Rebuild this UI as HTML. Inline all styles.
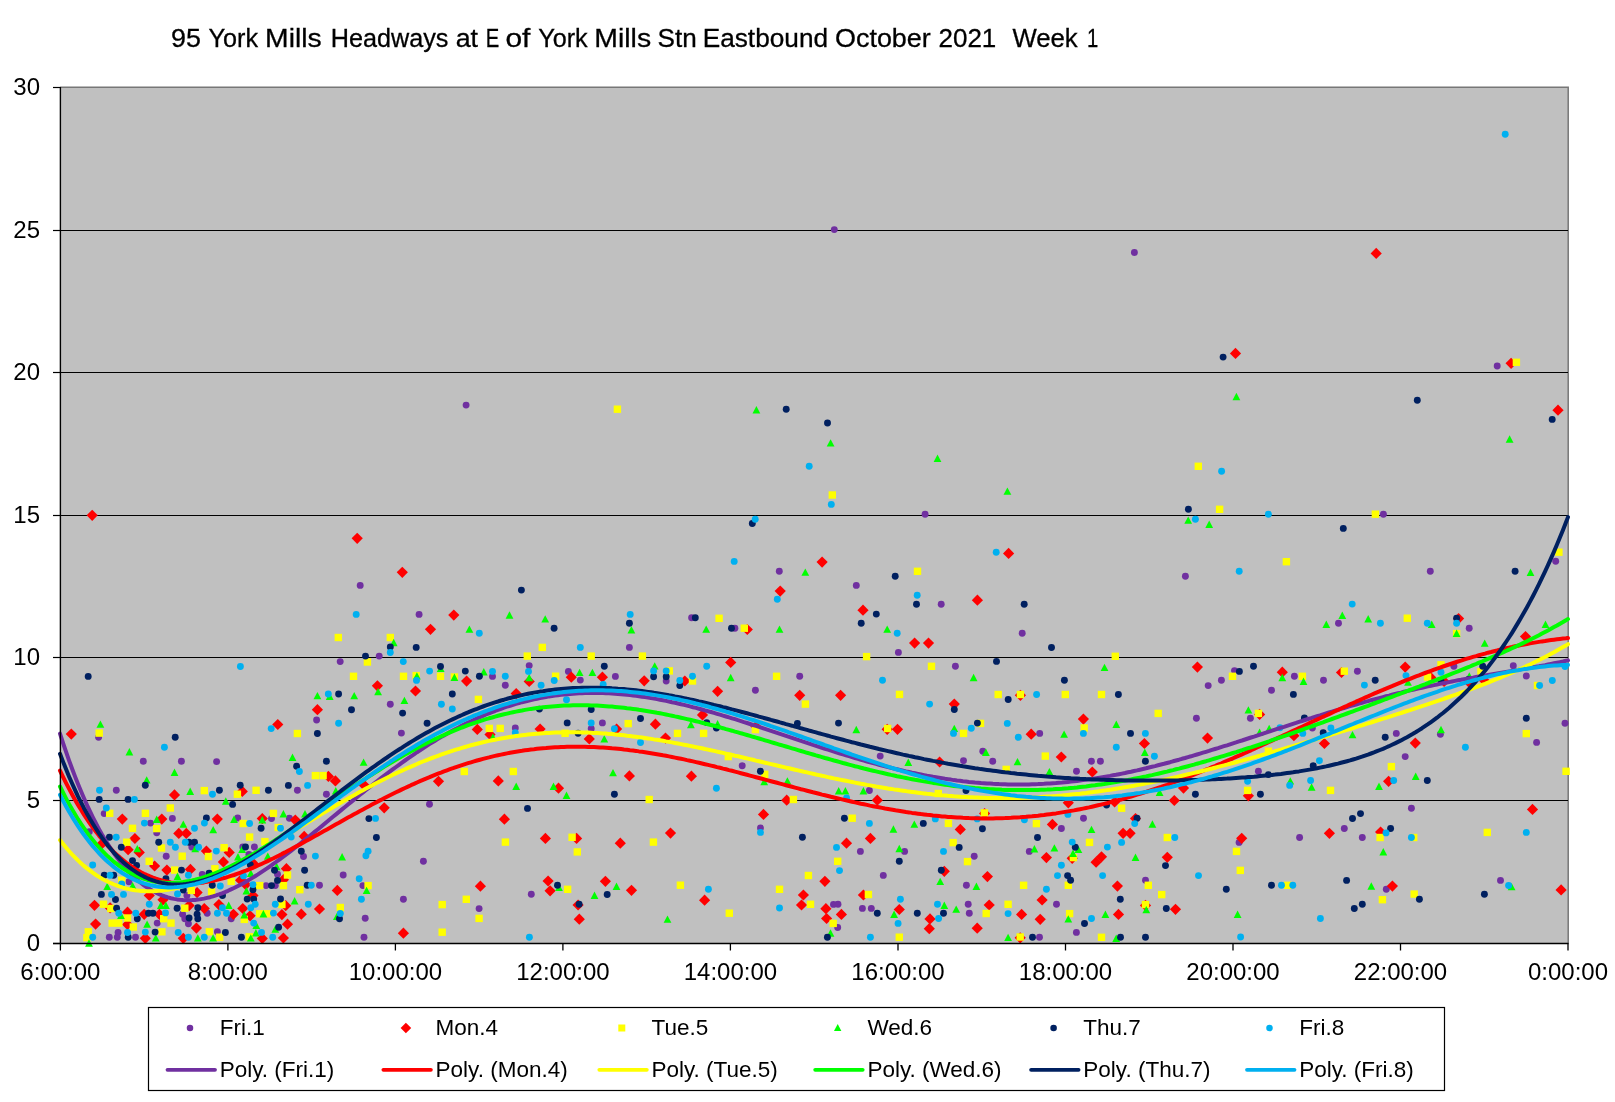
<!DOCTYPE html><html><head><meta charset="utf-8"><style>html,body{margin:0;padding:0;background:#fff;width:1615px;height:1102px;overflow:hidden}svg{display:block;will-change:transform}text{font-family:"Liberation Sans",sans-serif}</style></head><body>
<svg width="1615" height="1102" viewBox="0 0 1615 1102">
<text x="171.1" y="46.5" font-size="26.2" stroke="#000" stroke-width="0.3" textLength="29.9" lengthAdjust="spacingAndGlyphs">95</text>
<text x="208.6" y="46.5" font-size="26.2" stroke="#000" stroke-width="0.3" textLength="49.5" lengthAdjust="spacingAndGlyphs">York</text>
<text x="265.1" y="46.5" font-size="26.2" stroke="#000" stroke-width="0.3" textLength="56.6" lengthAdjust="spacingAndGlyphs">Mills</text>
<text x="330.7" y="46.5" font-size="26.2" stroke="#000" stroke-width="0.3" textLength="117.7" lengthAdjust="spacingAndGlyphs">Headways</text>
<text x="455.7" y="46.5" font-size="26.2" stroke="#000" stroke-width="0.3" textLength="22.4" lengthAdjust="spacingAndGlyphs">at</text>
<text x="485.8" y="46.5" font-size="26.2" stroke="#000" stroke-width="0.3" textLength="13.5" lengthAdjust="spacingAndGlyphs">E</text>
<text x="505.4" y="46.5" font-size="26.2" stroke="#000" stroke-width="0.3" textLength="25.0" lengthAdjust="spacingAndGlyphs">of</text>
<text x="538.2" y="46.5" font-size="26.2" stroke="#000" stroke-width="0.3" textLength="49.5" lengthAdjust="spacingAndGlyphs">York</text>
<text x="594.3" y="46.5" font-size="26.2" stroke="#000" stroke-width="0.3" textLength="56.8" lengthAdjust="spacingAndGlyphs">Mills</text>
<text x="657.5" y="46.5" font-size="26.2" stroke="#000" stroke-width="0.3" textLength="39.2" lengthAdjust="spacingAndGlyphs">Stn</text>
<text x="702.7" y="46.5" font-size="26.2" stroke="#000" stroke-width="0.3" textLength="125.4" lengthAdjust="spacingAndGlyphs">Eastbound</text>
<text x="835.0" y="46.5" font-size="26.2" stroke="#000" stroke-width="0.3" textLength="95.8" lengthAdjust="spacingAndGlyphs">October</text>
<text x="938.5" y="46.5" font-size="26.2" stroke="#000" stroke-width="0.3" textLength="57.8" lengthAdjust="spacingAndGlyphs">2021</text>
<text x="1012.4" y="46.5" font-size="26.2" stroke="#000" stroke-width="0.3" textLength="65.3" lengthAdjust="spacingAndGlyphs">Week</text>
<text x="1086.9" y="46.5" font-size="26.2" stroke="#000" stroke-width="0.3" textLength="11.3" lengthAdjust="spacingAndGlyphs">1</text>
<rect x="60" y="87" width="1508.2" height="856" fill="#C0C0C0"/>
<path d="M60,87.2 L1568.2,87.2 L1568.2,943" fill="none" stroke="#777" stroke-width="1.5"/>
<line x1="60" y1="230.5" x2="1568" y2="230.5" stroke="#000" stroke-width="1.2"/>
<line x1="60" y1="372.5" x2="1568" y2="372.5" stroke="#000" stroke-width="1.2"/>
<line x1="60" y1="515.5" x2="1568" y2="515.5" stroke="#000" stroke-width="1.2"/>
<line x1="60" y1="657.5" x2="1568" y2="657.5" stroke="#000" stroke-width="1.2"/>
<line x1="60" y1="800.5" x2="1568" y2="800.5" stroke="#000" stroke-width="1.2"/>
<circle cx="834.3" cy="229.6" r="3.45" fill="#7030A0"/>
<circle cx="1134.4" cy="252.5" r="3.45" fill="#7030A0"/>
<circle cx="1497.2" cy="366.0" r="3.45" fill="#7030A0"/>
<circle cx="360.2" cy="585.4" r="3.45" fill="#7030A0"/>
<circle cx="419.1" cy="614.4" r="3.45" fill="#7030A0"/>
<circle cx="466.1" cy="405.1" r="3.45" fill="#7030A0"/>
<circle cx="779.3" cy="571.3" r="3.45" fill="#7030A0"/>
<circle cx="856.3" cy="585.4" r="3.45" fill="#7030A0"/>
<circle cx="691.6" cy="617.8" r="3.45" fill="#7030A0"/>
<circle cx="734.9" cy="628.2" r="3.45" fill="#7030A0"/>
<circle cx="925.1" cy="514.3" r="3.45" fill="#7030A0"/>
<circle cx="941.2" cy="604.2" r="3.45" fill="#7030A0"/>
<circle cx="1022.2" cy="633.2" r="3.45" fill="#7030A0"/>
<circle cx="1185.4" cy="576.2" r="3.45" fill="#7030A0"/>
<circle cx="1383.4" cy="514.2" r="3.45" fill="#7030A0"/>
<circle cx="1430.3" cy="571.3" r="3.45" fill="#7030A0"/>
<circle cx="1555.7" cy="561.3" r="3.45" fill="#7030A0"/>
<circle cx="1338.5" cy="623.2" r="3.45" fill="#7030A0"/>
<circle cx="1469.2" cy="628.2" r="3.45" fill="#7030A0"/>
<circle cx="98.6" cy="737.2" r="3.45" fill="#7030A0"/>
<circle cx="143.3" cy="761.3" r="3.45" fill="#7030A0"/>
<circle cx="181.4" cy="761.3" r="3.45" fill="#7030A0"/>
<circle cx="116.3" cy="790.3" r="3.45" fill="#7030A0"/>
<circle cx="104.2" cy="813.6" r="3.45" fill="#7030A0"/>
<circle cx="150.5" cy="823.1" r="3.45" fill="#7030A0"/>
<circle cx="156.7" cy="832.7" r="3.45" fill="#7030A0"/>
<circle cx="89.3" cy="831.7" r="3.45" fill="#7030A0"/>
<circle cx="128.9" cy="881.7" r="3.45" fill="#7030A0"/>
<circle cx="157.2" cy="923.1" r="3.45" fill="#7030A0"/>
<circle cx="109.3" cy="937.2" r="3.45" fill="#7030A0"/>
<circle cx="118.1" cy="932.5" r="3.45" fill="#7030A0"/>
<circle cx="117.3" cy="937.2" r="3.45" fill="#7030A0"/>
<circle cx="135.5" cy="937.2" r="3.45" fill="#7030A0"/>
<circle cx="172.4" cy="818.4" r="3.45" fill="#7030A0"/>
<circle cx="237.7" cy="818.0" r="3.45" fill="#7030A0"/>
<circle cx="191.8" cy="847.0" r="3.45" fill="#7030A0"/>
<circle cx="242.8" cy="847.0" r="3.45" fill="#7030A0"/>
<circle cx="254.4" cy="847.0" r="3.45" fill="#7030A0"/>
<circle cx="248.9" cy="854.5" r="3.45" fill="#7030A0"/>
<circle cx="166.2" cy="856.2" r="3.45" fill="#7030A0"/>
<circle cx="202.2" cy="874.4" r="3.45" fill="#7030A0"/>
<circle cx="186.9" cy="895.5" r="3.45" fill="#7030A0"/>
<circle cx="207.2" cy="913.3" r="3.45" fill="#7030A0"/>
<circle cx="182.6" cy="914.3" r="3.45" fill="#7030A0"/>
<circle cx="184.8" cy="918.7" r="3.45" fill="#7030A0"/>
<circle cx="188.4" cy="923.8" r="3.45" fill="#7030A0"/>
<circle cx="231.2" cy="918.7" r="3.45" fill="#7030A0"/>
<circle cx="217.4" cy="931.8" r="3.45" fill="#7030A0"/>
<circle cx="316.6" cy="720.0" r="3.45" fill="#7030A0"/>
<circle cx="297.4" cy="790.3" r="3.45" fill="#7030A0"/>
<circle cx="326.4" cy="794.3" r="3.45" fill="#7030A0"/>
<circle cx="379.2" cy="656.1" r="3.45" fill="#7030A0"/>
<circle cx="340.2" cy="661.6" r="3.45" fill="#7030A0"/>
<circle cx="390.3" cy="704.2" r="3.45" fill="#7030A0"/>
<circle cx="271.5" cy="818.6" r="3.45" fill="#7030A0"/>
<circle cx="289.4" cy="818.2" r="3.45" fill="#7030A0"/>
<circle cx="303.5" cy="856.5" r="3.45" fill="#7030A0"/>
<circle cx="277.5" cy="874.3" r="3.45" fill="#7030A0"/>
<circle cx="343.2" cy="875.0" r="3.45" fill="#7030A0"/>
<circle cx="362.9" cy="885.6" r="3.45" fill="#7030A0"/>
<circle cx="266.0" cy="885.6" r="3.45" fill="#7030A0"/>
<circle cx="275.3" cy="885.6" r="3.45" fill="#7030A0"/>
<circle cx="319.5" cy="885.2" r="3.45" fill="#7030A0"/>
<circle cx="365.2" cy="918.3" r="3.45" fill="#7030A0"/>
<circle cx="364.0" cy="937.2" r="3.45" fill="#7030A0"/>
<circle cx="216.6" cy="761.6" r="3.45" fill="#7030A0"/>
<circle cx="401.4" cy="733.1" r="3.45" fill="#7030A0"/>
<circle cx="429.5" cy="804.2" r="3.45" fill="#7030A0"/>
<circle cx="423.4" cy="861.2" r="3.45" fill="#7030A0"/>
<circle cx="403.4" cy="899.3" r="3.45" fill="#7030A0"/>
<circle cx="479.1" cy="908.6" r="3.45" fill="#7030A0"/>
<circle cx="629.4" cy="647.4" r="3.45" fill="#7030A0"/>
<circle cx="529.2" cy="665.6" r="3.45" fill="#7030A0"/>
<circle cx="492.5" cy="676.4" r="3.45" fill="#7030A0"/>
<circle cx="505.3" cy="685.2" r="3.45" fill="#7030A0"/>
<circle cx="568.4" cy="671.4" r="3.45" fill="#7030A0"/>
<circle cx="580.3" cy="680.1" r="3.45" fill="#7030A0"/>
<circle cx="615.4" cy="676.4" r="3.45" fill="#7030A0"/>
<circle cx="602.4" cy="722.9" r="3.45" fill="#7030A0"/>
<circle cx="591.2" cy="728.7" r="3.45" fill="#7030A0"/>
<circle cx="515.3" cy="728.0" r="3.45" fill="#7030A0"/>
<circle cx="531.3" cy="894.2" r="3.45" fill="#7030A0"/>
<circle cx="666.2" cy="681.0" r="3.45" fill="#7030A0"/>
<circle cx="755.4" cy="690.2" r="3.45" fill="#7030A0"/>
<circle cx="799.7" cy="676.3" r="3.45" fill="#7030A0"/>
<circle cx="742.2" cy="765.8" r="3.45" fill="#7030A0"/>
<circle cx="760.5" cy="827.9" r="3.45" fill="#7030A0"/>
<circle cx="898.4" cy="652.4" r="3.45" fill="#7030A0"/>
<circle cx="955.4" cy="666.3" r="3.45" fill="#7030A0"/>
<circle cx="880.2" cy="756.1" r="3.45" fill="#7030A0"/>
<circle cx="963.5" cy="760.7" r="3.45" fill="#7030A0"/>
<circle cx="982.8" cy="751.2" r="3.45" fill="#7030A0"/>
<circle cx="869.4" cy="790.5" r="3.45" fill="#7030A0"/>
<circle cx="860.4" cy="851.4" r="3.45" fill="#7030A0"/>
<circle cx="904.6" cy="851.4" r="3.45" fill="#7030A0"/>
<circle cx="883.3" cy="875.4" r="3.45" fill="#7030A0"/>
<circle cx="974.2" cy="856.3" r="3.45" fill="#7030A0"/>
<circle cx="966.4" cy="885.2" r="3.45" fill="#7030A0"/>
<circle cx="838.0" cy="904.3" r="3.45" fill="#7030A0"/>
<circle cx="837.7" cy="927.5" r="3.45" fill="#7030A0"/>
<circle cx="862.4" cy="908.4" r="3.45" fill="#7030A0"/>
<circle cx="871.3" cy="908.4" r="3.45" fill="#7030A0"/>
<circle cx="968.2" cy="904.3" r="3.45" fill="#7030A0"/>
<circle cx="969.3" cy="913.2" r="3.45" fill="#7030A0"/>
<circle cx="1039.7" cy="733.4" r="3.45" fill="#7030A0"/>
<circle cx="992.7" cy="761.2" r="3.45" fill="#7030A0"/>
<circle cx="1076.5" cy="771.2" r="3.45" fill="#7030A0"/>
<circle cx="1091.4" cy="761.2" r="3.45" fill="#7030A0"/>
<circle cx="1100.4" cy="761.2" r="3.45" fill="#7030A0"/>
<circle cx="1083.5" cy="818.2" r="3.45" fill="#7030A0"/>
<circle cx="1061.4" cy="828.5" r="3.45" fill="#7030A0"/>
<circle cx="1029.3" cy="851.4" r="3.45" fill="#7030A0"/>
<circle cx="1145.5" cy="880.2" r="3.45" fill="#7030A0"/>
<circle cx="1056.5" cy="904.3" r="3.45" fill="#7030A0"/>
<circle cx="1076.4" cy="932.4" r="3.45" fill="#7030A0"/>
<circle cx="1039.5" cy="937.3" r="3.45" fill="#7030A0"/>
<circle cx="1208.2" cy="685.6" r="3.45" fill="#7030A0"/>
<circle cx="1221.4" cy="680.2" r="3.45" fill="#7030A0"/>
<circle cx="1234.5" cy="670.6" r="3.45" fill="#7030A0"/>
<circle cx="1271.5" cy="690.2" r="3.45" fill="#7030A0"/>
<circle cx="1294.4" cy="676.3" r="3.45" fill="#7030A0"/>
<circle cx="1323.5" cy="680.2" r="3.45" fill="#7030A0"/>
<circle cx="1196.4" cy="718.3" r="3.45" fill="#7030A0"/>
<circle cx="1250.4" cy="718.3" r="3.45" fill="#7030A0"/>
<circle cx="1312.4" cy="728.0" r="3.45" fill="#7030A0"/>
<circle cx="1258.4" cy="771.2" r="3.45" fill="#7030A0"/>
<circle cx="1239.1" cy="842.4" r="3.45" fill="#7030A0"/>
<circle cx="1299.6" cy="837.5" r="3.45" fill="#7030A0"/>
<circle cx="1357.4" cy="671.2" r="3.45" fill="#7030A0"/>
<circle cx="1453.9" cy="666.3" r="3.45" fill="#7030A0"/>
<circle cx="1396.3" cy="733.4" r="3.45" fill="#7030A0"/>
<circle cx="1440.4" cy="734.2" r="3.45" fill="#7030A0"/>
<circle cx="1405.2" cy="756.6" r="3.45" fill="#7030A0"/>
<circle cx="1411.4" cy="808.2" r="3.45" fill="#7030A0"/>
<circle cx="1344.3" cy="828.5" r="3.45" fill="#7030A0"/>
<circle cx="1362.3" cy="837.5" r="3.45" fill="#7030A0"/>
<circle cx="1386.3" cy="889.2" r="3.45" fill="#7030A0"/>
<circle cx="1500.5" cy="880.4" r="3.45" fill="#7030A0"/>
<circle cx="1513.3" cy="665.7" r="3.45" fill="#7030A0"/>
<circle cx="1526.3" cy="676.0" r="3.45" fill="#7030A0"/>
<circle cx="1536.6" cy="742.4" r="3.45" fill="#7030A0"/>
<circle cx="1565.0" cy="723.2" r="3.45" fill="#7030A0"/>
<circle cx="833.5" cy="904.4" r="3.45" fill="#7030A0"/>
<path d="M1376.2,247.8L1381.8,253.4L1376.2,259.0L1370.6,253.4Z" fill="#FF0000"/>
<path d="M1235.5,347.8L1241.1,353.4L1235.5,359.0L1229.9,353.4Z" fill="#FF0000"/>
<path d="M1511.1,357.7L1516.7,363.3L1511.1,368.9L1505.5,363.3Z" fill="#FF0000"/>
<path d="M1558.0,404.6L1563.6,410.2L1558.0,415.8L1552.4,410.2Z" fill="#FF0000"/>
<path d="M92.2,509.7L97.8,515.3L92.2,520.9L86.6,515.3Z" fill="#FF0000"/>
<path d="M357.2,532.7L362.8,538.3L357.2,543.9L351.6,538.3Z" fill="#FF0000"/>
<path d="M402.3,566.7L407.9,572.3L402.3,577.9L396.7,572.3Z" fill="#FF0000"/>
<path d="M453.8,609.5L459.4,615.1L453.8,620.7L448.2,615.1Z" fill="#FF0000"/>
<path d="M822.1,556.5L827.7,562.1L822.1,567.7L816.5,562.1Z" fill="#FF0000"/>
<path d="M780.2,585.5L785.8,591.1L780.2,596.7L774.6,591.1Z" fill="#FF0000"/>
<path d="M747.3,623.9L752.9,629.5L747.3,635.1L741.7,629.5Z" fill="#FF0000"/>
<path d="M1008.6,547.8L1014.2,553.4L1008.6,559.0L1003.0,553.4Z" fill="#FF0000"/>
<path d="M977.4,594.6L983.0,600.2L977.4,605.8L971.8,600.2Z" fill="#FF0000"/>
<path d="M863.0,604.6L868.6,610.2L863.0,615.8L857.4,610.2Z" fill="#FF0000"/>
<path d="M1458.6,613.0L1464.2,618.6L1458.6,624.2L1453.0,618.6Z" fill="#FF0000"/>
<path d="M1525.5,631.0L1531.1,636.6L1525.5,642.2L1519.9,636.6Z" fill="#FF0000"/>
<path d="M71.3,728.5L76.9,734.1L71.3,739.7L65.7,734.1Z" fill="#FF0000"/>
<path d="M174.5,789.3L180.1,794.9L174.5,800.5L168.9,794.9Z" fill="#FF0000"/>
<path d="M122.3,813.5L127.9,819.1L122.3,824.7L116.7,819.1Z" fill="#FF0000"/>
<path d="M134.9,832.9L140.5,838.5L134.9,844.1L129.3,838.5Z" fill="#FF0000"/>
<path d="M128.1,844.1L133.7,849.7L128.1,855.3L122.5,849.7Z" fill="#FF0000"/>
<path d="M139.3,846.8L144.9,852.4L139.3,858.0L133.7,852.4Z" fill="#FF0000"/>
<path d="M100.8,839.3L106.4,844.9L100.8,850.5L95.2,844.9Z" fill="#FF0000"/>
<path d="M154.6,860.4L160.2,866.0L154.6,871.6L149.0,866.0Z" fill="#FF0000"/>
<path d="M94.5,899.7L100.1,905.3L94.5,910.9L88.9,905.3Z" fill="#FF0000"/>
<path d="M110.1,902.2L115.7,907.8L110.1,913.4L104.5,907.8Z" fill="#FF0000"/>
<path d="M127.5,906.6L133.1,912.2L127.5,917.8L121.9,912.2Z" fill="#FF0000"/>
<path d="M144.2,908.7L149.8,914.3L144.2,919.9L138.6,914.3Z" fill="#FF0000"/>
<path d="M159.4,908.7L165.0,914.3L159.4,919.9L153.8,914.3Z" fill="#FF0000"/>
<path d="M149.3,889.9L154.9,895.5L149.3,901.1L143.7,895.5Z" fill="#FF0000"/>
<path d="M95.6,918.5L101.2,924.1L95.6,929.7L90.0,924.1Z" fill="#FF0000"/>
<path d="M127.5,918.9L133.1,924.5L127.5,930.1L121.9,924.5Z" fill="#FF0000"/>
<path d="M145.3,932.7L150.9,938.3L145.3,943.9L139.7,938.3Z" fill="#FF0000"/>
<path d="M161.8,813.5L167.4,819.1L161.8,824.7L156.2,819.1Z" fill="#FF0000"/>
<path d="M178.8,827.8L184.4,833.4L178.8,839.0L173.2,833.4Z" fill="#FF0000"/>
<path d="M186.3,827.8L191.9,833.4L186.3,839.0L180.7,833.4Z" fill="#FF0000"/>
<path d="M217.3,813.5L222.9,819.1L217.3,824.7L211.7,819.1Z" fill="#FF0000"/>
<path d="M206.4,845.5L212.0,851.1L206.4,856.7L200.8,851.1Z" fill="#FF0000"/>
<path d="M229.2,846.8L234.8,852.4L229.2,858.0L223.6,852.4Z" fill="#FF0000"/>
<path d="M223.4,856.3L229.0,861.9L223.4,867.5L217.8,861.9Z" fill="#FF0000"/>
<path d="M166.9,864.5L172.5,870.1L166.9,875.7L161.3,870.1Z" fill="#FF0000"/>
<path d="M190.4,863.8L196.0,869.4L190.4,875.0L184.8,869.4Z" fill="#FF0000"/>
<path d="M240.6,874.6L246.2,880.2L240.6,885.8L235.0,880.2Z" fill="#FF0000"/>
<path d="M197.1,887.0L202.7,892.6L197.1,898.2L191.5,892.6Z" fill="#FF0000"/>
<path d="M245.7,879.0L251.3,884.6L245.7,890.2L240.1,884.6Z" fill="#FF0000"/>
<path d="M253.0,889.9L258.6,895.5L253.0,901.1L247.4,895.5Z" fill="#FF0000"/>
<path d="M163.0,894.2L168.6,899.8L163.0,905.4L157.4,899.8Z" fill="#FF0000"/>
<path d="M189.1,900.0L194.7,905.6L189.1,911.2L183.5,905.6Z" fill="#FF0000"/>
<path d="M204.3,902.9L209.9,908.5L204.3,914.1L198.7,908.5Z" fill="#FF0000"/>
<path d="M218.9,899.0L224.5,904.6L218.9,910.2L213.3,904.6Z" fill="#FF0000"/>
<path d="M233.4,908.7L239.0,914.3L233.4,919.9L227.8,914.3Z" fill="#FF0000"/>
<path d="M242.8,902.9L248.4,908.5L242.8,914.1L237.2,908.5Z" fill="#FF0000"/>
<path d="M250.1,910.2L255.7,915.8L250.1,921.4L244.5,915.8Z" fill="#FF0000"/>
<path d="M196.4,922.5L202.0,928.1L196.4,933.7L190.8,928.1Z" fill="#FF0000"/>
<path d="M183.3,932.7L188.9,938.3L183.3,943.9L177.7,938.3Z" fill="#FF0000"/>
<path d="M277.8,718.9L283.4,724.5L277.8,730.1L272.2,724.5Z" fill="#FF0000"/>
<path d="M328.4,770.8L334.0,776.4L328.4,782.0L322.8,776.4Z" fill="#FF0000"/>
<path d="M335.4,775.3L341.0,780.9L335.4,786.5L329.8,780.9Z" fill="#FF0000"/>
<path d="M364.4,779.8L370.0,785.4L364.4,791.0L358.8,785.4Z" fill="#FF0000"/>
<path d="M430.5,623.7L436.1,629.3L430.5,634.9L424.9,629.3Z" fill="#FF0000"/>
<path d="M466.6,675.5L472.2,681.1L466.6,686.7L461.0,681.1Z" fill="#FF0000"/>
<path d="M377.4,680.2L383.0,685.8L377.4,691.4L371.8,685.8Z" fill="#FF0000"/>
<path d="M415.5,685.4L421.1,691.0L415.5,696.6L409.9,691.0Z" fill="#FF0000"/>
<path d="M317.4,704.1L323.0,709.7L317.4,715.3L311.8,709.7Z" fill="#FF0000"/>
<path d="M262.3,813.0L267.9,818.6L262.3,824.2L256.7,818.6Z" fill="#FF0000"/>
<path d="M295.3,814.5L300.9,820.1L295.3,825.7L289.7,820.1Z" fill="#FF0000"/>
<path d="M304.2,830.8L309.8,836.4L304.2,842.0L298.6,836.4Z" fill="#FF0000"/>
<path d="M253.7,858.3L259.3,863.9L253.7,869.5L248.1,863.9Z" fill="#FF0000"/>
<path d="M286.4,863.1L292.0,868.7L286.4,874.3L280.8,868.7Z" fill="#FF0000"/>
<path d="M283.4,874.1L289.0,879.7L283.4,885.3L277.8,879.7Z" fill="#FF0000"/>
<path d="M337.3,884.8L342.9,890.4L337.3,896.0L331.7,890.4Z" fill="#FF0000"/>
<path d="M285.7,900.1L291.3,905.7L285.7,911.3L280.1,905.7Z" fill="#FF0000"/>
<path d="M319.5,903.4L325.1,909.0L319.5,914.6L313.9,909.0Z" fill="#FF0000"/>
<path d="M301.3,908.6L306.9,914.2L301.3,919.8L295.7,914.2Z" fill="#FF0000"/>
<path d="M281.9,909.0L287.5,914.6L281.9,920.2L276.3,914.6Z" fill="#FF0000"/>
<path d="M287.5,918.6L293.1,924.2L287.5,929.8L281.9,924.2Z" fill="#FF0000"/>
<path d="M262.3,932.8L267.9,938.4L262.3,944.0L256.7,938.4Z" fill="#FF0000"/>
<path d="M283.4,932.4L289.0,938.0L283.4,943.6L277.8,938.0Z" fill="#FF0000"/>
<path d="M242.3,785.8L247.9,791.4L242.3,797.0L236.7,791.4Z" fill="#FF0000"/>
<path d="M477.3,723.8L482.9,729.4L477.3,735.0L471.7,729.4Z" fill="#FF0000"/>
<path d="M438.5,775.7L444.1,781.3L438.5,786.9L432.9,781.3Z" fill="#FF0000"/>
<path d="M384.2,802.2L389.8,807.8L384.2,813.4L378.6,807.8Z" fill="#FF0000"/>
<path d="M480.4,880.6L486.0,886.2L480.4,891.8L474.8,886.2Z" fill="#FF0000"/>
<path d="M403.4,927.6L409.0,933.2L403.4,938.8L397.8,933.2Z" fill="#FF0000"/>
<path d="M529.2,675.9L534.8,681.5L529.2,687.1L523.6,681.5Z" fill="#FF0000"/>
<path d="M571.3,671.6L576.9,677.2L571.3,682.8L565.7,677.2Z" fill="#FF0000"/>
<path d="M602.4,671.6L608.0,677.2L602.4,682.8L596.8,677.2Z" fill="#FF0000"/>
<path d="M644.2,675.2L649.8,680.8L644.2,686.4L638.6,680.8Z" fill="#FF0000"/>
<path d="M516.2,688.0L521.8,693.6L516.2,699.2L510.6,693.6Z" fill="#FF0000"/>
<path d="M616.6,723.4L622.2,729.0L616.6,734.6L611.0,729.0Z" fill="#FF0000"/>
<path d="M490.0,728.9L495.6,734.5L490.0,740.1L484.4,734.5Z" fill="#FF0000"/>
<path d="M540.1,723.4L545.7,729.0L540.1,734.6L534.5,729.0Z" fill="#FF0000"/>
<path d="M589.3,733.3L594.9,738.9L589.3,744.5L583.7,738.9Z" fill="#FF0000"/>
<path d="M498.3,775.3L503.9,780.9L498.3,786.5L492.7,780.9Z" fill="#FF0000"/>
<path d="M629.4,770.3L635.0,775.9L629.4,781.5L623.8,775.9Z" fill="#FF0000"/>
<path d="M558.5,782.6L564.1,788.2L558.5,793.8L552.9,788.2Z" fill="#FF0000"/>
<path d="M504.4,813.6L510.0,819.2L504.4,824.8L498.8,819.2Z" fill="#FF0000"/>
<path d="M545.4,832.8L551.0,838.4L545.4,844.0L539.8,838.4Z" fill="#FF0000"/>
<path d="M576.6,832.8L582.2,838.4L576.6,844.0L571.0,838.4Z" fill="#FF0000"/>
<path d="M620.3,837.6L625.9,843.2L620.3,848.8L614.7,843.2Z" fill="#FF0000"/>
<path d="M548.1,875.4L553.7,881.0L548.1,886.6L542.5,881.0Z" fill="#FF0000"/>
<path d="M550.1,885.2L555.7,890.8L550.1,896.4L544.5,890.8Z" fill="#FF0000"/>
<path d="M605.4,875.7L611.0,881.3L605.4,886.9L599.8,881.3Z" fill="#FF0000"/>
<path d="M631.5,884.7L637.1,890.3L631.5,895.9L625.9,890.3Z" fill="#FF0000"/>
<path d="M578.1,899.4L583.7,905.0L578.1,910.6L572.5,905.0Z" fill="#FF0000"/>
<path d="M579.3,913.6L584.9,919.2L579.3,924.8L573.7,919.2Z" fill="#FF0000"/>
<path d="M684.8,675.4L690.4,681.0L684.8,686.6L679.2,681.0Z" fill="#FF0000"/>
<path d="M730.7,656.8L736.3,662.4L730.7,668.0L725.1,662.4Z" fill="#FF0000"/>
<path d="M717.6,685.7L723.2,691.3L717.6,696.9L712.0,691.3Z" fill="#FF0000"/>
<path d="M799.7,689.7L805.3,695.3L799.7,700.9L794.1,695.3Z" fill="#FF0000"/>
<path d="M655.4,718.6L661.0,724.2L655.4,729.8L649.8,724.2Z" fill="#FF0000"/>
<path d="M665.5,732.5L671.1,738.1L665.5,743.7L659.9,738.1Z" fill="#FF0000"/>
<path d="M702.5,709.3L708.1,714.9L702.5,720.5L696.9,714.9Z" fill="#FF0000"/>
<path d="M756.0,720.9L761.6,726.5L756.0,732.1L750.4,726.5Z" fill="#FF0000"/>
<path d="M691.4,770.6L697.0,776.2L691.4,781.8L685.8,776.2Z" fill="#FF0000"/>
<path d="M786.7,794.6L792.3,800.2L786.7,805.8L781.1,800.2Z" fill="#FF0000"/>
<path d="M763.5,808.8L769.1,814.4L763.5,820.0L757.9,814.4Z" fill="#FF0000"/>
<path d="M670.5,827.5L676.1,833.1L670.5,838.7L664.9,833.1Z" fill="#FF0000"/>
<path d="M704.6,894.6L710.2,900.2L704.6,905.8L699.0,900.2Z" fill="#FF0000"/>
<path d="M824.9,875.7L830.5,881.3L824.9,886.9L819.3,881.3Z" fill="#FF0000"/>
<path d="M803.4,889.4L809.0,895.0L803.4,900.6L797.8,895.0Z" fill="#FF0000"/>
<path d="M801.5,899.4L807.1,905.0L801.5,910.6L795.9,905.0Z" fill="#FF0000"/>
<path d="M825.9,903.1L831.5,908.7L825.9,914.3L820.3,908.7Z" fill="#FF0000"/>
<path d="M826.6,912.9L832.2,918.5L826.6,924.1L821.0,918.5Z" fill="#FF0000"/>
<path d="M914.6,637.5L920.2,643.1L914.6,648.7L909.0,643.1Z" fill="#FF0000"/>
<path d="M928.5,637.5L934.1,643.1L928.5,648.7L922.9,643.1Z" fill="#FF0000"/>
<path d="M840.6,689.7L846.2,695.3L840.6,700.9L835.0,695.3Z" fill="#FF0000"/>
<path d="M954.3,698.5L959.9,704.1L954.3,709.7L948.7,704.1Z" fill="#FF0000"/>
<path d="M887.2,723.7L892.8,729.3L887.2,734.9L881.6,729.3Z" fill="#FF0000"/>
<path d="M897.5,723.7L903.1,729.3L897.5,734.9L891.9,729.3Z" fill="#FF0000"/>
<path d="M939.6,756.4L945.2,762.0L939.6,767.6L934.0,762.0Z" fill="#FF0000"/>
<path d="M877.3,794.6L882.9,800.2L877.3,805.8L871.7,800.2Z" fill="#FF0000"/>
<path d="M960.3,823.8L965.9,829.4L960.3,835.0L954.7,829.4Z" fill="#FF0000"/>
<path d="M846.5,837.6L852.1,843.2L846.5,848.8L840.9,843.2Z" fill="#FF0000"/>
<path d="M870.4,832.8L876.0,838.4L870.4,844.0L864.8,838.4Z" fill="#FF0000"/>
<path d="M944.3,865.7L949.9,871.3L944.3,876.9L938.7,871.3Z" fill="#FF0000"/>
<path d="M987.4,871.0L993.0,876.6L987.4,882.2L981.8,876.6Z" fill="#FF0000"/>
<path d="M863.4,889.4L869.0,895.0L863.4,900.6L857.8,895.0Z" fill="#FF0000"/>
<path d="M841.4,908.8L847.0,914.4L841.4,920.0L835.8,914.4Z" fill="#FF0000"/>
<path d="M899.3,903.9L904.9,909.5L899.3,915.1L893.7,909.5Z" fill="#FF0000"/>
<path d="M930.0,913.3L935.6,918.9L930.0,924.5L924.4,918.9Z" fill="#FF0000"/>
<path d="M929.3,923.1L934.9,928.7L929.3,934.3L923.7,928.7Z" fill="#FF0000"/>
<path d="M989.2,899.4L994.8,905.0L989.2,910.6L983.6,905.0Z" fill="#FF0000"/>
<path d="M977.2,922.6L982.8,928.2L977.2,933.8L971.6,928.2Z" fill="#FF0000"/>
<path d="M1020.4,689.7L1026.0,695.3L1020.4,700.9L1014.8,695.3Z" fill="#FF0000"/>
<path d="M1031.2,728.6L1036.8,734.2L1031.2,739.8L1025.6,734.2Z" fill="#FF0000"/>
<path d="M1083.4,713.5L1089.0,719.1L1083.4,724.7L1077.8,719.1Z" fill="#FF0000"/>
<path d="M1144.4,737.9L1150.0,743.5L1144.4,749.1L1138.8,743.5Z" fill="#FF0000"/>
<path d="M1061.3,751.4L1066.9,757.0L1061.3,762.6L1055.7,757.0Z" fill="#FF0000"/>
<path d="M1092.3,766.4L1097.9,772.0L1092.3,777.6L1086.7,772.0Z" fill="#FF0000"/>
<path d="M1068.3,797.2L1073.9,802.8L1068.3,808.4L1062.7,802.8Z" fill="#FF0000"/>
<path d="M1114.6,796.4L1120.2,802.0L1114.6,807.6L1109.0,802.0Z" fill="#FF0000"/>
<path d="M1052.4,818.8L1058.0,824.4L1052.4,830.0L1046.8,824.4Z" fill="#FF0000"/>
<path d="M1135.5,812.9L1141.1,818.5L1135.5,824.1L1129.9,818.5Z" fill="#FF0000"/>
<path d="M1123.1,827.7L1128.7,833.3L1123.1,838.9L1117.5,833.3Z" fill="#FF0000"/>
<path d="M1130.1,827.7L1135.7,833.3L1130.1,838.9L1124.5,833.3Z" fill="#FF0000"/>
<path d="M1046.4,852.0L1052.0,857.6L1046.4,863.2L1040.8,857.6Z" fill="#FF0000"/>
<path d="M1072.2,852.7L1077.8,858.3L1072.2,863.9L1066.6,858.3Z" fill="#FF0000"/>
<path d="M1096.1,856.6L1101.7,862.2L1096.1,867.8L1090.5,862.2Z" fill="#FF0000"/>
<path d="M1101.5,851.2L1107.1,856.8L1101.5,862.4L1095.9,856.8Z" fill="#FF0000"/>
<path d="M1117.4,880.5L1123.0,886.1L1117.4,891.7L1111.8,886.1Z" fill="#FF0000"/>
<path d="M1042.1,894.4L1047.7,900.0L1042.1,905.6L1036.5,900.0Z" fill="#FF0000"/>
<path d="M1021.6,908.8L1027.2,914.4L1021.6,920.0L1016.0,914.4Z" fill="#FF0000"/>
<path d="M1040.2,913.7L1045.8,919.3L1040.2,924.9L1034.6,919.3Z" fill="#FF0000"/>
<path d="M1118.5,908.8L1124.1,914.4L1118.5,920.0L1112.9,914.4Z" fill="#FF0000"/>
<path d="M1145.5,899.8L1151.1,905.4L1145.5,911.0L1139.9,905.4Z" fill="#FF0000"/>
<path d="M1020.2,932.2L1025.8,937.8L1020.2,943.4L1014.6,937.8Z" fill="#FF0000"/>
<path d="M1197.4,661.5L1203.0,667.1L1197.4,672.7L1191.8,667.1Z" fill="#FF0000"/>
<path d="M1282.3,666.6L1287.9,672.2L1282.3,677.8L1276.7,672.2Z" fill="#FF0000"/>
<path d="M1259.6,708.8L1265.2,714.4L1259.6,720.0L1254.0,714.4Z" fill="#FF0000"/>
<path d="M1207.5,732.5L1213.1,738.1L1207.5,743.7L1201.9,738.1Z" fill="#FF0000"/>
<path d="M1293.9,730.1L1299.5,735.7L1293.9,741.3L1288.3,735.7Z" fill="#FF0000"/>
<path d="M1324.4,737.9L1330.0,743.5L1324.4,749.1L1318.8,743.5Z" fill="#FF0000"/>
<path d="M1248.4,790.2L1254.0,795.8L1248.4,801.4L1242.8,795.8Z" fill="#FF0000"/>
<path d="M1183.5,782.5L1189.1,788.1L1183.5,793.7L1177.9,788.1Z" fill="#FF0000"/>
<path d="M1174.3,794.9L1179.9,800.5L1174.3,806.1L1168.7,800.5Z" fill="#FF0000"/>
<path d="M1241.7,832.7L1247.3,838.3L1241.7,843.9L1236.1,838.3Z" fill="#FF0000"/>
<path d="M1329.4,827.7L1335.0,833.3L1329.4,838.9L1323.8,833.3Z" fill="#FF0000"/>
<path d="M1167.3,851.7L1172.9,857.3L1167.3,862.9L1161.7,857.3Z" fill="#FF0000"/>
<path d="M1175.5,903.7L1181.1,909.3L1175.5,914.9L1169.9,909.3Z" fill="#FF0000"/>
<path d="M1341.5,666.9L1347.1,672.5L1341.5,678.1L1335.9,672.5Z" fill="#FF0000"/>
<path d="M1405.2,661.5L1410.8,667.1L1405.2,672.7L1399.6,667.1Z" fill="#FF0000"/>
<path d="M1430.7,671.8L1436.3,677.4L1430.7,683.0L1425.1,677.4Z" fill="#FF0000"/>
<path d="M1444.1,675.8L1449.7,681.4L1444.1,687.0L1438.5,681.4Z" fill="#FF0000"/>
<path d="M1470.1,677.7L1475.7,683.3L1470.1,688.9L1464.5,683.3Z" fill="#FF0000"/>
<path d="M1484.0,674.6L1489.6,680.2L1484.0,685.8L1478.4,680.2Z" fill="#FF0000"/>
<path d="M1415.3,737.5L1420.9,743.1L1415.3,748.7L1409.7,743.1Z" fill="#FF0000"/>
<path d="M1388.6,775.7L1394.2,781.3L1388.6,786.9L1383.0,781.3Z" fill="#FF0000"/>
<path d="M1380.6,826.5L1386.2,832.1L1380.6,837.7L1375.0,832.1Z" fill="#FF0000"/>
<path d="M1392.4,880.5L1398.0,886.1L1392.4,891.7L1386.8,886.1Z" fill="#FF0000"/>
<path d="M1532.5,803.8L1538.1,809.4L1532.5,815.0L1526.9,809.4Z" fill="#FF0000"/>
<path d="M1561.1,884.3L1566.7,889.9L1561.1,895.5L1555.5,889.9Z" fill="#FF0000"/>
<path d="M984.6,807.9L990.2,813.5L984.6,819.1L979.0,813.5Z" fill="#FF0000"/>
<rect x="1512.7" y="358.6" width="7.4" height="7.4" fill="#FFFF00"/>
<rect x="613.7" y="405.5" width="7.4" height="7.4" fill="#FFFF00"/>
<rect x="828.6" y="491.3" width="7.4" height="7.4" fill="#FFFF00"/>
<rect x="715.4" y="614.6" width="7.4" height="7.4" fill="#FFFF00"/>
<rect x="740.6" y="624.5" width="7.4" height="7.4" fill="#FFFF00"/>
<rect x="913.8" y="567.6" width="7.4" height="7.4" fill="#FFFF00"/>
<rect x="1194.6" y="462.6" width="7.4" height="7.4" fill="#FFFF00"/>
<rect x="1215.9" y="505.6" width="7.4" height="7.4" fill="#FFFF00"/>
<rect x="1371.7" y="510.5" width="7.4" height="7.4" fill="#FFFF00"/>
<rect x="1282.7" y="558.0" width="7.4" height="7.4" fill="#FFFF00"/>
<rect x="1555.2" y="548.5" width="7.4" height="7.4" fill="#FFFF00"/>
<rect x="1403.6" y="614.5" width="7.4" height="7.4" fill="#FFFF00"/>
<rect x="1452.9" y="629.9" width="7.4" height="7.4" fill="#FFFF00"/>
<rect x="95.5" y="729.4" width="7.4" height="7.4" fill="#FFFF00"/>
<rect x="166.6" y="804.3" width="7.4" height="7.4" fill="#FFFF00"/>
<rect x="106.0" y="809.6" width="7.4" height="7.4" fill="#FFFF00"/>
<rect x="141.7" y="809.6" width="7.4" height="7.4" fill="#FFFF00"/>
<rect x="153.0" y="824.9" width="7.4" height="7.4" fill="#FFFF00"/>
<rect x="128.8" y="824.6" width="7.4" height="7.4" fill="#FFFF00"/>
<rect x="123.0" y="838.5" width="7.4" height="7.4" fill="#FFFF00"/>
<rect x="145.5" y="857.6" width="7.4" height="7.4" fill="#FFFF00"/>
<rect x="118.0" y="876.5" width="7.4" height="7.4" fill="#FFFF00"/>
<rect x="99.8" y="900.5" width="7.4" height="7.4" fill="#FFFF00"/>
<rect x="107.1" y="904.8" width="7.4" height="7.4" fill="#FFFF00"/>
<rect x="123.8" y="914.3" width="7.4" height="7.4" fill="#FFFF00"/>
<rect x="108.5" y="919.4" width="7.4" height="7.4" fill="#FFFF00"/>
<rect x="115.1" y="919.4" width="7.4" height="7.4" fill="#FFFF00"/>
<rect x="129.6" y="923.3" width="7.4" height="7.4" fill="#FFFF00"/>
<rect x="84.6" y="928.1" width="7.4" height="7.4" fill="#FFFF00"/>
<rect x="83.2" y="933.9" width="7.4" height="7.4" fill="#FFFF00"/>
<rect x="239.5" y="819.8" width="7.4" height="7.4" fill="#FFFF00"/>
<rect x="245.9" y="833.4" width="7.4" height="7.4" fill="#FFFF00"/>
<rect x="157.8" y="844.3" width="7.4" height="7.4" fill="#FFFF00"/>
<rect x="204.7" y="852.8" width="7.4" height="7.4" fill="#FFFF00"/>
<rect x="220.4" y="844.0" width="7.4" height="7.4" fill="#FFFF00"/>
<rect x="178.5" y="852.5" width="7.4" height="7.4" fill="#FFFF00"/>
<rect x="171.0" y="866.4" width="7.4" height="7.4" fill="#FFFF00"/>
<rect x="211.2" y="865.1" width="7.4" height="7.4" fill="#FFFF00"/>
<rect x="227.5" y="877.6" width="7.4" height="7.4" fill="#FFFF00"/>
<rect x="207.9" y="888.2" width="7.4" height="7.4" fill="#FFFF00"/>
<rect x="187.6" y="886.7" width="7.4" height="7.4" fill="#FFFF00"/>
<rect x="181.1" y="904.5" width="7.4" height="7.4" fill="#FFFF00"/>
<rect x="240.6" y="915.7" width="7.4" height="7.4" fill="#FFFF00"/>
<rect x="160.0" y="915.0" width="7.4" height="7.4" fill="#FFFF00"/>
<rect x="167.3" y="919.4" width="7.4" height="7.4" fill="#FFFF00"/>
<rect x="158.2" y="928.1" width="7.4" height="7.4" fill="#FFFF00"/>
<rect x="205.7" y="928.1" width="7.4" height="7.4" fill="#FFFF00"/>
<rect x="215.9" y="933.5" width="7.4" height="7.4" fill="#FFFF00"/>
<rect x="245.6" y="933.1" width="7.4" height="7.4" fill="#FFFF00"/>
<rect x="293.7" y="729.8" width="7.4" height="7.4" fill="#FFFF00"/>
<rect x="311.7" y="771.9" width="7.4" height="7.4" fill="#FFFF00"/>
<rect x="319.4" y="771.9" width="7.4" height="7.4" fill="#FFFF00"/>
<rect x="252.4" y="786.6" width="7.4" height="7.4" fill="#FFFF00"/>
<rect x="334.6" y="633.8" width="7.4" height="7.4" fill="#FFFF00"/>
<rect x="386.6" y="633.8" width="7.4" height="7.4" fill="#FFFF00"/>
<rect x="363.7" y="658.3" width="7.4" height="7.4" fill="#FFFF00"/>
<rect x="349.8" y="672.6" width="7.4" height="7.4" fill="#FFFF00"/>
<rect x="399.8" y="672.6" width="7.4" height="7.4" fill="#FFFF00"/>
<rect x="412.5" y="671.9" width="7.4" height="7.4" fill="#FFFF00"/>
<rect x="436.8" y="672.6" width="7.4" height="7.4" fill="#FFFF00"/>
<rect x="450.7" y="673.3" width="7.4" height="7.4" fill="#FFFF00"/>
<rect x="269.7" y="809.7" width="7.4" height="7.4" fill="#FFFF00"/>
<rect x="274.5" y="823.8" width="7.4" height="7.4" fill="#FFFF00"/>
<rect x="261.2" y="837.9" width="7.4" height="7.4" fill="#FFFF00"/>
<rect x="283.8" y="871.3" width="7.4" height="7.4" fill="#FFFF00"/>
<rect x="364.4" y="881.9" width="7.4" height="7.4" fill="#FFFF00"/>
<rect x="256.0" y="881.9" width="7.4" height="7.4" fill="#FFFF00"/>
<rect x="279.7" y="881.9" width="7.4" height="7.4" fill="#FFFF00"/>
<rect x="296.1" y="886.0" width="7.4" height="7.4" fill="#FFFF00"/>
<rect x="278.2" y="900.8" width="7.4" height="7.4" fill="#FFFF00"/>
<rect x="256.0" y="910.1" width="7.4" height="7.4" fill="#FFFF00"/>
<rect x="263.4" y="910.1" width="7.4" height="7.4" fill="#FFFF00"/>
<rect x="336.6" y="903.8" width="7.4" height="7.4" fill="#FFFF00"/>
<rect x="200.6" y="786.9" width="7.4" height="7.4" fill="#FFFF00"/>
<rect x="233.7" y="790.5" width="7.4" height="7.4" fill="#FFFF00"/>
<rect x="460.6" y="767.8" width="7.4" height="7.4" fill="#FFFF00"/>
<rect x="438.5" y="900.9" width="7.4" height="7.4" fill="#FFFF00"/>
<rect x="462.6" y="895.6" width="7.4" height="7.4" fill="#FFFF00"/>
<rect x="475.4" y="914.7" width="7.4" height="7.4" fill="#FFFF00"/>
<rect x="438.5" y="928.5" width="7.4" height="7.4" fill="#FFFF00"/>
<rect x="538.6" y="643.7" width="7.4" height="7.4" fill="#FFFF00"/>
<rect x="523.6" y="652.4" width="7.4" height="7.4" fill="#FFFF00"/>
<rect x="587.5" y="652.4" width="7.4" height="7.4" fill="#FFFF00"/>
<rect x="638.7" y="652.4" width="7.4" height="7.4" fill="#FFFF00"/>
<rect x="551.9" y="672.5" width="7.4" height="7.4" fill="#FFFF00"/>
<rect x="474.7" y="695.7" width="7.4" height="7.4" fill="#FFFF00"/>
<rect x="624.5" y="719.9" width="7.4" height="7.4" fill="#FFFF00"/>
<rect x="485.6" y="724.7" width="7.4" height="7.4" fill="#FFFF00"/>
<rect x="496.5" y="724.7" width="7.4" height="7.4" fill="#FFFF00"/>
<rect x="561.4" y="729.6" width="7.4" height="7.4" fill="#FFFF00"/>
<rect x="509.6" y="767.8" width="7.4" height="7.4" fill="#FFFF00"/>
<rect x="645.5" y="795.8" width="7.4" height="7.4" fill="#FFFF00"/>
<rect x="501.7" y="838.4" width="7.4" height="7.4" fill="#FFFF00"/>
<rect x="568.4" y="833.6" width="7.4" height="7.4" fill="#FFFF00"/>
<rect x="573.6" y="848.2" width="7.4" height="7.4" fill="#FFFF00"/>
<rect x="649.7" y="838.4" width="7.4" height="7.4" fill="#FFFF00"/>
<rect x="563.9" y="885.6" width="7.4" height="7.4" fill="#FFFF00"/>
<rect x="665.6" y="667.2" width="7.4" height="7.4" fill="#FFFF00"/>
<rect x="688.8" y="677.3" width="7.4" height="7.4" fill="#FFFF00"/>
<rect x="772.9" y="672.6" width="7.4" height="7.4" fill="#FFFF00"/>
<rect x="801.7" y="700.4" width="7.4" height="7.4" fill="#FFFF00"/>
<rect x="673.8" y="729.7" width="7.4" height="7.4" fill="#FFFF00"/>
<rect x="699.9" y="729.7" width="7.4" height="7.4" fill="#FFFF00"/>
<rect x="751.7" y="725.9" width="7.4" height="7.4" fill="#FFFF00"/>
<rect x="724.6" y="752.9" width="7.4" height="7.4" fill="#FFFF00"/>
<rect x="761.0" y="770.6" width="7.4" height="7.4" fill="#FFFF00"/>
<rect x="789.7" y="795.8" width="7.4" height="7.4" fill="#FFFF00"/>
<rect x="676.7" y="881.5" width="7.4" height="7.4" fill="#FFFF00"/>
<rect x="725.6" y="909.5" width="7.4" height="7.4" fill="#FFFF00"/>
<rect x="775.8" y="885.6" width="7.4" height="7.4" fill="#FFFF00"/>
<rect x="804.7" y="871.8" width="7.4" height="7.4" fill="#FFFF00"/>
<rect x="806.8" y="900.6" width="7.4" height="7.4" fill="#FFFF00"/>
<rect x="862.9" y="652.9" width="7.4" height="7.4" fill="#FFFF00"/>
<rect x="927.8" y="662.6" width="7.4" height="7.4" fill="#FFFF00"/>
<rect x="895.8" y="690.7" width="7.4" height="7.4" fill="#FFFF00"/>
<rect x="883.9" y="724.8" width="7.4" height="7.4" fill="#FFFF00"/>
<rect x="959.8" y="729.7" width="7.4" height="7.4" fill="#FFFF00"/>
<rect x="976.8" y="719.7" width="7.4" height="7.4" fill="#FFFF00"/>
<rect x="934.6" y="789.8" width="7.4" height="7.4" fill="#FFFF00"/>
<rect x="848.5" y="814.5" width="7.4" height="7.4" fill="#FFFF00"/>
<rect x="944.7" y="819.7" width="7.4" height="7.4" fill="#FFFF00"/>
<rect x="980.7" y="809.2" width="7.4" height="7.4" fill="#FFFF00"/>
<rect x="834.0" y="857.6" width="7.4" height="7.4" fill="#FFFF00"/>
<rect x="949.5" y="838.9" width="7.4" height="7.4" fill="#FFFF00"/>
<rect x="963.8" y="857.9" width="7.4" height="7.4" fill="#FFFF00"/>
<rect x="864.7" y="890.8" width="7.4" height="7.4" fill="#FFFF00"/>
<rect x="829.5" y="919.7" width="7.4" height="7.4" fill="#FFFF00"/>
<rect x="895.6" y="933.5" width="7.4" height="7.4" fill="#FFFF00"/>
<rect x="982.5" y="909.8" width="7.4" height="7.4" fill="#FFFF00"/>
<rect x="1111.6" y="652.6" width="7.4" height="7.4" fill="#FFFF00"/>
<rect x="994.5" y="690.8" width="7.4" height="7.4" fill="#FFFF00"/>
<rect x="1016.7" y="690.8" width="7.4" height="7.4" fill="#FFFF00"/>
<rect x="1061.6" y="690.8" width="7.4" height="7.4" fill="#FFFF00"/>
<rect x="1097.8" y="690.8" width="7.4" height="7.4" fill="#FFFF00"/>
<rect x="1154.5" y="709.7" width="7.4" height="7.4" fill="#FFFF00"/>
<rect x="1080.5" y="724.3" width="7.4" height="7.4" fill="#FFFF00"/>
<rect x="1041.6" y="752.4" width="7.4" height="7.4" fill="#FFFF00"/>
<rect x="1002.5" y="765.7" width="7.4" height="7.4" fill="#FFFF00"/>
<rect x="1117.9" y="804.5" width="7.4" height="7.4" fill="#FFFF00"/>
<rect x="1032.7" y="819.9" width="7.4" height="7.4" fill="#FFFF00"/>
<rect x="1085.8" y="838.7" width="7.4" height="7.4" fill="#FFFF00"/>
<rect x="1069.7" y="853.9" width="7.4" height="7.4" fill="#FFFF00"/>
<rect x="1064.6" y="881.6" width="7.4" height="7.4" fill="#FFFF00"/>
<rect x="1019.9" y="881.6" width="7.4" height="7.4" fill="#FFFF00"/>
<rect x="1144.6" y="881.6" width="7.4" height="7.4" fill="#FFFF00"/>
<rect x="1158.0" y="890.9" width="7.4" height="7.4" fill="#FFFF00"/>
<rect x="1004.4" y="900.6" width="7.4" height="7.4" fill="#FFFF00"/>
<rect x="1065.9" y="909.9" width="7.4" height="7.4" fill="#FFFF00"/>
<rect x="1141.8" y="900.9" width="7.4" height="7.4" fill="#FFFF00"/>
<rect x="1016.5" y="933.3" width="7.4" height="7.4" fill="#FFFF00"/>
<rect x="1097.8" y="933.6" width="7.4" height="7.4" fill="#FFFF00"/>
<rect x="1228.8" y="672.6" width="7.4" height="7.4" fill="#FFFF00"/>
<rect x="1298.7" y="672.6" width="7.4" height="7.4" fill="#FFFF00"/>
<rect x="1254.7" y="709.7" width="7.4" height="7.4" fill="#FFFF00"/>
<rect x="1264.7" y="747.5" width="7.4" height="7.4" fill="#FFFF00"/>
<rect x="1326.8" y="786.7" width="7.4" height="7.4" fill="#FFFF00"/>
<rect x="1243.9" y="786.7" width="7.4" height="7.4" fill="#FFFF00"/>
<rect x="1163.6" y="833.8" width="7.4" height="7.4" fill="#FFFF00"/>
<rect x="1232.8" y="847.7" width="7.4" height="7.4" fill="#FFFF00"/>
<rect x="1236.6" y="866.7" width="7.4" height="7.4" fill="#FFFF00"/>
<rect x="1284.0" y="881.6" width="7.4" height="7.4" fill="#FFFF00"/>
<rect x="1340.6" y="667.5" width="7.4" height="7.4" fill="#FFFF00"/>
<rect x="1423.9" y="673.4" width="7.4" height="7.4" fill="#FFFF00"/>
<rect x="1437.3" y="661.1" width="7.4" height="7.4" fill="#FFFF00"/>
<rect x="1477.2" y="668.0" width="7.4" height="7.4" fill="#FFFF00"/>
<rect x="1387.7" y="762.9" width="7.4" height="7.4" fill="#FFFF00"/>
<rect x="1376.4" y="833.8" width="7.4" height="7.4" fill="#FFFF00"/>
<rect x="1410.0" y="833.8" width="7.4" height="7.4" fill="#FFFF00"/>
<rect x="1483.6" y="828.7" width="7.4" height="7.4" fill="#FFFF00"/>
<rect x="1378.7" y="896.0" width="7.4" height="7.4" fill="#FFFF00"/>
<rect x="1410.5" y="890.4" width="7.4" height="7.4" fill="#FFFF00"/>
<rect x="1533.8" y="681.8" width="7.4" height="7.4" fill="#FFFF00"/>
<rect x="1522.6" y="729.9" width="7.4" height="7.4" fill="#FFFF00"/>
<rect x="1562.4" y="767.6" width="7.4" height="7.4" fill="#FFFF00"/>
<path d="M1236.4,392.8L1240.3,400.2L1232.5,400.2Z" fill="#00FF00"/>
<path d="M756.4,406.1L760.3,413.5L752.5,413.5Z" fill="#00FF00"/>
<path d="M830.6,439.2L834.5,446.6L826.7,446.6Z" fill="#00FF00"/>
<path d="M805.3,568.4L809.2,575.8L801.4,575.8Z" fill="#00FF00"/>
<path d="M509.5,611.3L513.4,618.7L505.6,618.7Z" fill="#00FF00"/>
<path d="M545.2,615.2L549.1,622.6L541.3,622.6Z" fill="#00FF00"/>
<path d="M469.4,625.4L473.3,632.8L465.5,632.8Z" fill="#00FF00"/>
<path d="M631.4,626.1L635.3,633.5L627.5,633.5Z" fill="#00FF00"/>
<path d="M706.2,625.4L710.1,632.8L702.3,632.8Z" fill="#00FF00"/>
<path d="M779.5,625.4L783.4,632.8L775.6,632.8Z" fill="#00FF00"/>
<path d="M937.5,454.5L941.4,461.9L933.6,461.9Z" fill="#00FF00"/>
<path d="M1007.4,487.4L1011.3,494.8L1003.5,494.8Z" fill="#00FF00"/>
<path d="M887.2,625.4L891.1,632.8L883.3,632.8Z" fill="#00FF00"/>
<path d="M1188.2,516.4L1192.1,523.8L1184.3,523.8Z" fill="#00FF00"/>
<path d="M1209.2,520.6L1213.1,528.0L1205.3,528.0Z" fill="#00FF00"/>
<path d="M1509.6,435.3L1513.5,442.7L1505.7,442.7Z" fill="#00FF00"/>
<path d="M1530.5,568.6L1534.4,576.0L1526.6,576.0Z" fill="#00FF00"/>
<path d="M1342.3,611.5L1346.2,618.9L1338.4,618.9Z" fill="#00FF00"/>
<path d="M1326.3,620.5L1330.2,627.9L1322.4,627.9Z" fill="#00FF00"/>
<path d="M1368.2,615.1L1372.1,622.5L1364.3,622.5Z" fill="#00FF00"/>
<path d="M1431.7,620.5L1435.6,627.9L1427.8,627.9Z" fill="#00FF00"/>
<path d="M1456.6,629.5L1460.5,636.9L1452.7,636.9Z" fill="#00FF00"/>
<path d="M1545.5,620.5L1549.4,627.9L1541.6,627.9Z" fill="#00FF00"/>
<path d="M100.4,720.4L104.3,727.8L96.5,727.8Z" fill="#00FF00"/>
<path d="M129.4,748.1L133.3,755.5L125.5,755.5Z" fill="#00FF00"/>
<path d="M174.5,768.5L178.4,775.9L170.6,775.9Z" fill="#00FF00"/>
<path d="M146.7,776.2L150.6,783.6L142.8,783.6Z" fill="#00FF00"/>
<path d="M190.2,787.6L194.1,795.0L186.3,795.0Z" fill="#00FF00"/>
<path d="M156.7,815.6L160.6,823.0L152.8,823.0Z" fill="#00FF00"/>
<path d="M137.3,844.9L141.2,852.3L133.4,852.3Z" fill="#00FF00"/>
<path d="M107.2,882.7L111.1,890.1L103.3,890.1Z" fill="#00FF00"/>
<path d="M132.6,881.9L136.5,889.3L128.7,889.3Z" fill="#00FF00"/>
<path d="M121.0,911.7L124.9,919.1L117.1,919.1Z" fill="#00FF00"/>
<path d="M147.1,920.4L151.0,927.8L143.2,927.8Z" fill="#00FF00"/>
<path d="M155.8,934.2L159.7,941.6L151.9,941.6Z" fill="#00FF00"/>
<path d="M89.0,939.3L92.9,946.7L85.1,946.7Z" fill="#00FF00"/>
<path d="M183.3,820.4L187.2,827.8L179.4,827.8Z" fill="#00FF00"/>
<path d="M213.2,825.9L217.1,833.3L209.3,833.3Z" fill="#00FF00"/>
<path d="M234.0,815.6L237.9,823.0L230.1,823.0Z" fill="#00FF00"/>
<path d="M225.8,797.3L229.7,804.7L221.9,804.7Z" fill="#00FF00"/>
<path d="M195.2,844.9L199.1,852.3L191.3,852.3Z" fill="#00FF00"/>
<path d="M238.0,853.1L241.9,860.5L234.1,860.5Z" fill="#00FF00"/>
<path d="M242.1,845.6L246.0,853.0L238.2,853.0Z" fill="#00FF00"/>
<path d="M177.5,872.5L181.4,879.9L173.6,879.9Z" fill="#00FF00"/>
<path d="M250.8,869.6L254.7,877.0L246.9,877.0Z" fill="#00FF00"/>
<path d="M246.4,887.0L250.3,894.4L242.5,894.4Z" fill="#00FF00"/>
<path d="M160.8,901.5L164.7,908.9L156.9,908.9Z" fill="#00FF00"/>
<path d="M165.9,901.5L169.8,908.9L162.0,908.9Z" fill="#00FF00"/>
<path d="M228.7,901.5L232.6,908.9L224.8,908.9Z" fill="#00FF00"/>
<path d="M244.3,911.0L248.2,918.4L240.4,918.4Z" fill="#00FF00"/>
<path d="M197.8,934.2L201.7,941.6L193.9,941.6Z" fill="#00FF00"/>
<path d="M213.1,934.2L217.0,941.6L209.2,941.6Z" fill="#00FF00"/>
<path d="M250.8,934.2L254.7,941.6L246.9,941.6Z" fill="#00FF00"/>
<path d="M292.5,753.5L296.4,760.9L288.6,760.9Z" fill="#00FF00"/>
<path d="M363.6,758.4L367.5,765.8L359.7,765.8Z" fill="#00FF00"/>
<path d="M335.8,787.0L339.7,794.4L331.9,794.4Z" fill="#00FF00"/>
<path d="M393.7,638.8L397.6,646.2L389.8,646.2Z" fill="#00FF00"/>
<path d="M440.7,664.7L444.6,672.1L436.8,672.1Z" fill="#00FF00"/>
<path d="M416.9,672.2L420.8,679.6L413.0,679.6Z" fill="#00FF00"/>
<path d="M454.4,673.6L458.3,681.0L450.5,681.0Z" fill="#00FF00"/>
<path d="M378.1,687.9L382.0,695.3L374.2,695.3Z" fill="#00FF00"/>
<path d="M317.4,691.9L321.3,699.3L313.5,699.3Z" fill="#00FF00"/>
<path d="M329.7,692.6L333.6,700.0L325.8,700.0Z" fill="#00FF00"/>
<path d="M354.2,691.9L358.1,699.3L350.3,699.3Z" fill="#00FF00"/>
<path d="M404.4,696.7L408.3,704.1L400.5,704.1Z" fill="#00FF00"/>
<path d="M262.3,816.0L266.2,823.4L258.4,823.4Z" fill="#00FF00"/>
<path d="M283.4,810.0L287.3,817.4L279.5,817.4Z" fill="#00FF00"/>
<path d="M305.0,810.0L308.9,817.4L301.1,817.4Z" fill="#00FF00"/>
<path d="M267.8,852.4L271.7,859.8L263.9,859.8Z" fill="#00FF00"/>
<path d="M276.7,862.8L280.6,870.2L272.8,870.2Z" fill="#00FF00"/>
<path d="M342.1,853.1L346.0,860.5L338.2,860.5Z" fill="#00FF00"/>
<path d="M366.6,886.7L370.5,894.1L362.7,894.1Z" fill="#00FF00"/>
<path d="M294.6,897.1L298.5,904.5L290.7,904.5Z" fill="#00FF00"/>
<path d="M263.4,910.1L267.3,917.5L259.5,917.5Z" fill="#00FF00"/>
<path d="M336.9,912.7L340.8,920.1L333.0,920.1Z" fill="#00FF00"/>
<path d="M256.3,921.6L260.2,929.0L252.4,929.0Z" fill="#00FF00"/>
<path d="M275.3,925.3L279.2,932.7L271.4,932.7Z" fill="#00FF00"/>
<path d="M255.9,929.1L259.8,936.5L252.0,936.5Z" fill="#00FF00"/>
<path d="M529.2,673.8L533.1,681.2L525.3,681.2Z" fill="#00FF00"/>
<path d="M483.8,668.0L487.7,675.4L479.9,675.4Z" fill="#00FF00"/>
<path d="M579.6,668.7L583.5,676.1L575.7,676.1Z" fill="#00FF00"/>
<path d="M592.4,668.7L596.3,676.1L588.5,676.1Z" fill="#00FF00"/>
<path d="M492.9,733.3L496.8,740.7L489.0,740.7Z" fill="#00FF00"/>
<path d="M604.3,735.0L608.2,742.4L600.4,742.4Z" fill="#00FF00"/>
<path d="M613.0,768.9L616.9,776.3L609.1,776.3Z" fill="#00FF00"/>
<path d="M516.2,782.6L520.1,790.0L512.3,790.0Z" fill="#00FF00"/>
<path d="M553.5,782.6L557.4,790.0L549.6,790.0Z" fill="#00FF00"/>
<path d="M566.5,791.6L570.4,799.0L562.6,799.0Z" fill="#00FF00"/>
<path d="M559.0,883.7L562.9,891.1L555.1,891.1Z" fill="#00FF00"/>
<path d="M594.5,891.5L598.4,898.9L590.6,898.9Z" fill="#00FF00"/>
<path d="M616.5,882.5L620.4,889.9L612.6,889.9Z" fill="#00FF00"/>
<path d="M654.7,662.2L658.6,669.6L650.8,669.6Z" fill="#00FF00"/>
<path d="M730.7,673.8L734.6,681.2L726.8,681.2Z" fill="#00FF00"/>
<path d="M690.9,720.8L694.8,728.2L687.0,728.2Z" fill="#00FF00"/>
<path d="M717.6,720.1L721.5,727.5L713.7,727.5Z" fill="#00FF00"/>
<path d="M764.2,777.9L768.1,785.3L760.3,785.3Z" fill="#00FF00"/>
<path d="M787.4,777.2L791.3,784.6L783.5,784.6Z" fill="#00FF00"/>
<path d="M667.5,915.4L671.4,922.8L663.6,922.8Z" fill="#00FF00"/>
<path d="M973.6,673.8L977.5,681.2L969.7,681.2Z" fill="#00FF00"/>
<path d="M856.3,725.8L860.2,733.2L852.4,733.2Z" fill="#00FF00"/>
<path d="M954.3,724.7L958.2,732.1L950.4,732.1Z" fill="#00FF00"/>
<path d="M908.3,758.6L912.2,766.0L904.4,766.0Z" fill="#00FF00"/>
<path d="M985.9,748.6L989.8,756.0L982.0,756.0Z" fill="#00FF00"/>
<path d="M838.7,787.1L842.6,794.5L834.8,794.5Z" fill="#00FF00"/>
<path d="M845.4,787.1L849.3,794.5L841.5,794.5Z" fill="#00FF00"/>
<path d="M863.4,787.1L867.3,794.5L859.5,794.5Z" fill="#00FF00"/>
<path d="M893.4,825.3L897.3,832.7L889.5,832.7Z" fill="#00FF00"/>
<path d="M914.3,820.4L918.2,827.8L910.4,827.8Z" fill="#00FF00"/>
<path d="M899.3,844.8L903.2,852.2L895.4,852.2Z" fill="#00FF00"/>
<path d="M940.2,877.7L944.1,885.1L936.3,885.1Z" fill="#00FF00"/>
<path d="M976.4,882.5L980.3,889.9L972.5,889.9Z" fill="#00FF00"/>
<path d="M830.5,929.3L834.4,936.7L826.6,936.7Z" fill="#00FF00"/>
<path d="M894.1,910.6L898.0,918.0L890.2,918.0Z" fill="#00FF00"/>
<path d="M944.3,901.6L948.2,909.0L940.4,909.0Z" fill="#00FF00"/>
<path d="M956.2,905.4L960.1,912.8L952.3,912.8Z" fill="#00FF00"/>
<path d="M1104.5,663.7L1108.4,671.1L1100.6,671.1Z" fill="#00FF00"/>
<path d="M1064.1,730.4L1068.0,737.8L1060.2,737.8Z" fill="#00FF00"/>
<path d="M1116.3,720.5L1120.2,727.9L1112.4,727.9Z" fill="#00FF00"/>
<path d="M1144.8,748.6L1148.7,756.0L1140.9,756.0Z" fill="#00FF00"/>
<path d="M1017.5,757.9L1021.4,765.3L1013.6,765.3Z" fill="#00FF00"/>
<path d="M1049.4,767.9L1053.3,775.3L1045.5,775.3Z" fill="#00FF00"/>
<path d="M1091.5,825.7L1095.4,833.1L1087.6,833.1Z" fill="#00FF00"/>
<path d="M1152.4,820.3L1156.3,827.7L1148.5,827.7Z" fill="#00FF00"/>
<path d="M1078.4,845.7L1082.3,853.1L1074.5,853.1Z" fill="#00FF00"/>
<path d="M1034.4,845.0L1038.3,852.4L1030.5,852.4Z" fill="#00FF00"/>
<path d="M1054.4,844.2L1058.3,851.6L1050.5,851.6Z" fill="#00FF00"/>
<path d="M1073.0,849.6L1076.9,857.0L1069.1,857.0Z" fill="#00FF00"/>
<path d="M1135.5,853.5L1139.4,860.9L1131.6,860.9Z" fill="#00FF00"/>
<path d="M1068.3,915.2L1072.2,922.6L1064.4,922.6Z" fill="#00FF00"/>
<path d="M1105.4,910.6L1109.3,918.0L1101.5,918.0Z" fill="#00FF00"/>
<path d="M1146.3,905.9L1150.2,913.3L1142.4,913.3Z" fill="#00FF00"/>
<path d="M1008.1,933.7L1012.0,941.1L1004.2,941.1Z" fill="#00FF00"/>
<path d="M1116.2,934.5L1120.1,941.9L1112.3,941.9Z" fill="#00FF00"/>
<path d="M1282.3,673.8L1286.2,681.2L1278.4,681.2Z" fill="#00FF00"/>
<path d="M1303.5,677.6L1307.4,685.0L1299.6,685.0Z" fill="#00FF00"/>
<path d="M1248.4,706.2L1252.3,713.6L1244.5,713.6Z" fill="#00FF00"/>
<path d="M1259.6,728.6L1263.5,736.0L1255.7,736.0Z" fill="#00FF00"/>
<path d="M1269.2,724.7L1273.1,732.1L1265.3,732.1Z" fill="#00FF00"/>
<path d="M1290.3,777.2L1294.2,784.6L1286.4,784.6Z" fill="#00FF00"/>
<path d="M1311.6,783.3L1315.5,790.7L1307.7,790.7Z" fill="#00FF00"/>
<path d="M1159.6,788.6L1163.5,796.0L1155.7,796.0Z" fill="#00FF00"/>
<path d="M1237.6,910.6L1241.5,918.0L1233.7,918.0Z" fill="#00FF00"/>
<path d="M1484.7,639.4L1488.6,646.8L1480.8,646.8Z" fill="#00FF00"/>
<path d="M1408.0,678.4L1411.9,685.8L1404.1,685.8Z" fill="#00FF00"/>
<path d="M1469.3,672.2L1473.2,679.6L1465.4,679.6Z" fill="#00FF00"/>
<path d="M1352.5,730.9L1356.4,738.3L1348.6,738.3Z" fill="#00FF00"/>
<path d="M1441.0,725.8L1444.9,733.2L1437.1,733.2Z" fill="#00FF00"/>
<path d="M1415.7,772.5L1419.6,779.9L1411.8,779.9Z" fill="#00FF00"/>
<path d="M1379.0,782.6L1382.9,790.0L1375.1,790.0Z" fill="#00FF00"/>
<path d="M1383.3,848.1L1387.2,855.5L1379.4,855.5Z" fill="#00FF00"/>
<path d="M1371.3,882.3L1375.2,889.7L1367.4,889.7Z" fill="#00FF00"/>
<path d="M1511.6,882.9L1515.5,890.3L1507.7,890.3Z" fill="#00FF00"/>
<circle cx="1223.1" cy="357.1" r="3.45" fill="#002060"/>
<circle cx="1417.3" cy="400.3" r="3.45" fill="#002060"/>
<circle cx="1552.2" cy="419.4" r="3.45" fill="#002060"/>
<circle cx="786.2" cy="409.2" r="3.45" fill="#002060"/>
<circle cx="827.5" cy="423.0" r="3.45" fill="#002060"/>
<circle cx="752.3" cy="523.5" r="3.45" fill="#002060"/>
<circle cx="521.4" cy="590.1" r="3.45" fill="#002060"/>
<circle cx="629.4" cy="623.3" r="3.45" fill="#002060"/>
<circle cx="695.3" cy="617.8" r="3.45" fill="#002060"/>
<circle cx="554.1" cy="628.2" r="3.45" fill="#002060"/>
<circle cx="731.5" cy="628.2" r="3.45" fill="#002060"/>
<circle cx="895.2" cy="576.2" r="3.45" fill="#002060"/>
<circle cx="916.5" cy="604.2" r="3.45" fill="#002060"/>
<circle cx="1024.2" cy="604.2" r="3.45" fill="#002060"/>
<circle cx="876.3" cy="614.1" r="3.45" fill="#002060"/>
<circle cx="861.2" cy="623.3" r="3.45" fill="#002060"/>
<circle cx="1188.4" cy="509.3" r="3.45" fill="#002060"/>
<circle cx="1343.3" cy="528.4" r="3.45" fill="#002060"/>
<circle cx="1515.1" cy="571.3" r="3.45" fill="#002060"/>
<circle cx="1456.6" cy="618.2" r="3.45" fill="#002060"/>
<circle cx="88.2" cy="676.4" r="3.45" fill="#002060"/>
<circle cx="175.2" cy="737.2" r="3.45" fill="#002060"/>
<circle cx="145.3" cy="785.3" r="3.45" fill="#002060"/>
<circle cx="99.2" cy="799.4" r="3.45" fill="#002060"/>
<circle cx="128.1" cy="799.4" r="3.45" fill="#002060"/>
<circle cx="109.4" cy="837.3" r="3.45" fill="#002060"/>
<circle cx="121.3" cy="847.3" r="3.45" fill="#002060"/>
<circle cx="158.7" cy="842.2" r="3.45" fill="#002060"/>
<circle cx="132.5" cy="860.6" r="3.45" fill="#002060"/>
<circle cx="136.6" cy="865.4" r="3.45" fill="#002060"/>
<circle cx="104.3" cy="875.2" r="3.45" fill="#002060"/>
<circle cx="113.7" cy="875.2" r="3.45" fill="#002060"/>
<circle cx="101.4" cy="894.4" r="3.45" fill="#002060"/>
<circle cx="115.5" cy="899.5" r="3.45" fill="#002060"/>
<circle cx="116.6" cy="908.2" r="3.45" fill="#002060"/>
<circle cx="137.3" cy="918.7" r="3.45" fill="#002060"/>
<circle cx="148.5" cy="913.3" r="3.45" fill="#002060"/>
<circle cx="152.9" cy="913.3" r="3.45" fill="#002060"/>
<circle cx="128.2" cy="937.2" r="3.45" fill="#002060"/>
<circle cx="155.1" cy="932.1" r="3.45" fill="#002060"/>
<circle cx="206.4" cy="818.0" r="3.45" fill="#002060"/>
<circle cx="232.6" cy="804.4" r="3.45" fill="#002060"/>
<circle cx="189.0" cy="842.2" r="3.45" fill="#002060"/>
<circle cx="194.5" cy="842.2" r="3.45" fill="#002060"/>
<circle cx="245.5" cy="847.0" r="3.45" fill="#002060"/>
<circle cx="181.5" cy="870.1" r="3.45" fill="#002060"/>
<circle cx="250.3" cy="864.7" r="3.45" fill="#002060"/>
<circle cx="165.9" cy="878.8" r="3.45" fill="#002060"/>
<circle cx="209.1" cy="873.3" r="3.45" fill="#002060"/>
<circle cx="212.3" cy="885.3" r="3.45" fill="#002060"/>
<circle cx="183.3" cy="890.0" r="3.45" fill="#002060"/>
<circle cx="222.5" cy="895.5" r="3.45" fill="#002060"/>
<circle cx="253.0" cy="889.7" r="3.45" fill="#002060"/>
<circle cx="247.2" cy="899.1" r="3.45" fill="#002060"/>
<circle cx="253.7" cy="899.1" r="3.45" fill="#002060"/>
<circle cx="177.1" cy="908.2" r="3.45" fill="#002060"/>
<circle cx="197.8" cy="907.8" r="3.45" fill="#002060"/>
<circle cx="197.1" cy="914.3" r="3.45" fill="#002060"/>
<circle cx="197.8" cy="918.7" r="3.45" fill="#002060"/>
<circle cx="189.1" cy="918.0" r="3.45" fill="#002060"/>
<circle cx="225.4" cy="932.5" r="3.45" fill="#002060"/>
<circle cx="241.4" cy="937.2" r="3.45" fill="#002060"/>
<circle cx="317.4" cy="733.5" r="3.45" fill="#002060"/>
<circle cx="326.4" cy="761.3" r="3.45" fill="#002060"/>
<circle cx="296.6" cy="766.2" r="3.45" fill="#002060"/>
<circle cx="288.4" cy="785.4" r="3.45" fill="#002060"/>
<circle cx="268.4" cy="790.3" r="3.45" fill="#002060"/>
<circle cx="390.3" cy="647.0" r="3.45" fill="#002060"/>
<circle cx="416.2" cy="647.4" r="3.45" fill="#002060"/>
<circle cx="365.5" cy="656.1" r="3.45" fill="#002060"/>
<circle cx="440.5" cy="666.5" r="3.45" fill="#002060"/>
<circle cx="465.3" cy="671.1" r="3.45" fill="#002060"/>
<circle cx="338.6" cy="694.0" r="3.45" fill="#002060"/>
<circle cx="452.3" cy="694.0" r="3.45" fill="#002060"/>
<circle cx="351.5" cy="709.7" r="3.45" fill="#002060"/>
<circle cx="402.6" cy="713.1" r="3.45" fill="#002060"/>
<circle cx="427.1" cy="723.3" r="3.45" fill="#002060"/>
<circle cx="261.1" cy="828.2" r="3.45" fill="#002060"/>
<circle cx="301.3" cy="851.3" r="3.45" fill="#002060"/>
<circle cx="274.5" cy="870.2" r="3.45" fill="#002060"/>
<circle cx="304.6" cy="870.2" r="3.45" fill="#002060"/>
<circle cx="368.9" cy="818.6" r="3.45" fill="#002060"/>
<circle cx="277.5" cy="880.4" r="3.45" fill="#002060"/>
<circle cx="271.5" cy="885.6" r="3.45" fill="#002060"/>
<circle cx="307.2" cy="885.2" r="3.45" fill="#002060"/>
<circle cx="280.5" cy="899.0" r="3.45" fill="#002060"/>
<circle cx="339.5" cy="918.7" r="3.45" fill="#002060"/>
<circle cx="278.6" cy="927.2" r="3.45" fill="#002060"/>
<circle cx="219.4" cy="790.2" r="3.45" fill="#002060"/>
<circle cx="240.2" cy="785.3" r="3.45" fill="#002060"/>
<circle cx="376.4" cy="837.5" r="3.45" fill="#002060"/>
<circle cx="479.4" cy="676.2" r="3.45" fill="#002060"/>
<circle cx="604.3" cy="666.3" r="3.45" fill="#002060"/>
<circle cx="539.4" cy="709.1" r="3.45" fill="#002060"/>
<circle cx="591.2" cy="709.5" r="3.45" fill="#002060"/>
<circle cx="640.5" cy="718.5" r="3.45" fill="#002060"/>
<circle cx="567.2" cy="722.9" r="3.45" fill="#002060"/>
<circle cx="578.1" cy="733.3" r="3.45" fill="#002060"/>
<circle cx="614.4" cy="794.2" r="3.45" fill="#002060"/>
<circle cx="527.5" cy="808.4" r="3.45" fill="#002060"/>
<circle cx="557.5" cy="885.2" r="3.45" fill="#002060"/>
<circle cx="607.2" cy="894.5" r="3.45" fill="#002060"/>
<circle cx="579.1" cy="904.3" r="3.45" fill="#002060"/>
<circle cx="653.6" cy="676.8" r="3.45" fill="#002060"/>
<circle cx="666.2" cy="676.8" r="3.45" fill="#002060"/>
<circle cx="679.8" cy="685.6" r="3.45" fill="#002060"/>
<circle cx="706.7" cy="722.6" r="3.45" fill="#002060"/>
<circle cx="716.4" cy="728.0" r="3.45" fill="#002060"/>
<circle cx="797.4" cy="723.4" r="3.45" fill="#002060"/>
<circle cx="760.4" cy="771.2" r="3.45" fill="#002060"/>
<circle cx="802.4" cy="837.2" r="3.45" fill="#002060"/>
<circle cx="827.4" cy="937.2" r="3.45" fill="#002060"/>
<circle cx="954.3" cy="709.5" r="3.45" fill="#002060"/>
<circle cx="838.5" cy="723.1" r="3.45" fill="#002060"/>
<circle cx="977.4" cy="723.1" r="3.45" fill="#002060"/>
<circle cx="966.0" cy="790.5" r="3.45" fill="#002060"/>
<circle cx="844.4" cy="818.2" r="3.45" fill="#002060"/>
<circle cx="923.3" cy="823.4" r="3.45" fill="#002060"/>
<circle cx="982.4" cy="828.7" r="3.45" fill="#002060"/>
<circle cx="899.3" cy="861.3" r="3.45" fill="#002060"/>
<circle cx="959.2" cy="847.4" r="3.45" fill="#002060"/>
<circle cx="941.3" cy="870.3" r="3.45" fill="#002060"/>
<circle cx="877.3" cy="913.2" r="3.45" fill="#002060"/>
<circle cx="917.3" cy="913.2" r="3.45" fill="#002060"/>
<circle cx="943.5" cy="913.2" r="3.45" fill="#002060"/>
<circle cx="1051.5" cy="647.5" r="3.45" fill="#002060"/>
<circle cx="996.5" cy="661.4" r="3.45" fill="#002060"/>
<circle cx="1064.4" cy="680.2" r="3.45" fill="#002060"/>
<circle cx="1008.2" cy="699.5" r="3.45" fill="#002060"/>
<circle cx="1118.4" cy="694.5" r="3.45" fill="#002060"/>
<circle cx="1130.5" cy="733.4" r="3.45" fill="#002060"/>
<circle cx="1145.4" cy="761.2" r="3.45" fill="#002060"/>
<circle cx="1106.6" cy="805.1" r="3.45" fill="#002060"/>
<circle cx="1137.0" cy="818.2" r="3.45" fill="#002060"/>
<circle cx="1037.5" cy="837.5" r="3.45" fill="#002060"/>
<circle cx="1075.3" cy="847.2" r="3.45" fill="#002060"/>
<circle cx="1067.6" cy="875.6" r="3.45" fill="#002060"/>
<circle cx="1070.6" cy="880.2" r="3.45" fill="#002060"/>
<circle cx="1120.3" cy="899.2" r="3.45" fill="#002060"/>
<circle cx="1084.5" cy="923.5" r="3.45" fill="#002060"/>
<circle cx="1032.5" cy="937.3" r="3.45" fill="#002060"/>
<circle cx="1120.5" cy="937.3" r="3.45" fill="#002060"/>
<circle cx="1145.5" cy="937.3" r="3.45" fill="#002060"/>
<circle cx="1239.4" cy="671.4" r="3.45" fill="#002060"/>
<circle cx="1253.5" cy="666.3" r="3.45" fill="#002060"/>
<circle cx="1293.4" cy="694.4" r="3.45" fill="#002060"/>
<circle cx="1304.4" cy="718.0" r="3.45" fill="#002060"/>
<circle cx="1323.2" cy="732.7" r="3.45" fill="#002060"/>
<circle cx="1313.2" cy="765.8" r="3.45" fill="#002060"/>
<circle cx="1268.4" cy="774.6" r="3.45" fill="#002060"/>
<circle cx="1260.4" cy="794.3" r="3.45" fill="#002060"/>
<circle cx="1195.4" cy="794.3" r="3.45" fill="#002060"/>
<circle cx="1165.5" cy="865.6" r="3.45" fill="#002060"/>
<circle cx="1226.3" cy="889.2" r="3.45" fill="#002060"/>
<circle cx="1271.5" cy="885.3" r="3.45" fill="#002060"/>
<circle cx="1166.3" cy="908.5" r="3.45" fill="#002060"/>
<circle cx="1375.2" cy="680.2" r="3.45" fill="#002060"/>
<circle cx="1441.0" cy="681.0" r="3.45" fill="#002060"/>
<circle cx="1482.7" cy="666.3" r="3.45" fill="#002060"/>
<circle cx="1468.5" cy="679.4" r="3.45" fill="#002060"/>
<circle cx="1385.2" cy="737.3" r="3.45" fill="#002060"/>
<circle cx="1427.3" cy="780.5" r="3.45" fill="#002060"/>
<circle cx="1360.5" cy="813.6" r="3.45" fill="#002060"/>
<circle cx="1352.5" cy="818.5" r="3.45" fill="#002060"/>
<circle cx="1390.6" cy="828.5" r="3.45" fill="#002060"/>
<circle cx="1346.6" cy="880.4" r="3.45" fill="#002060"/>
<circle cx="1362.3" cy="904.3" r="3.45" fill="#002060"/>
<circle cx="1354.3" cy="908.5" r="3.45" fill="#002060"/>
<circle cx="1419.4" cy="899.2" r="3.45" fill="#002060"/>
<circle cx="1484.4" cy="894.3" r="3.45" fill="#002060"/>
<circle cx="1526.3" cy="718.2" r="3.45" fill="#002060"/>
<circle cx="1505.2" cy="134.3" r="3.45" fill="#00B0F0"/>
<circle cx="356.2" cy="614.4" r="3.45" fill="#00B0F0"/>
<circle cx="809.2" cy="466.3" r="3.45" fill="#00B0F0"/>
<circle cx="831.3" cy="504.4" r="3.45" fill="#00B0F0"/>
<circle cx="755.2" cy="519.3" r="3.45" fill="#00B0F0"/>
<circle cx="734.2" cy="561.4" r="3.45" fill="#00B0F0"/>
<circle cx="777.3" cy="599.3" r="3.45" fill="#00B0F0"/>
<circle cx="630.2" cy="614.4" r="3.45" fill="#00B0F0"/>
<circle cx="479.3" cy="633.2" r="3.45" fill="#00B0F0"/>
<circle cx="996.2" cy="552.2" r="3.45" fill="#00B0F0"/>
<circle cx="917.2" cy="595.3" r="3.45" fill="#00B0F0"/>
<circle cx="897.2" cy="633.2" r="3.45" fill="#00B0F0"/>
<circle cx="1221.6" cy="471.2" r="3.45" fill="#00B0F0"/>
<circle cx="1195.4" cy="519.3" r="3.45" fill="#00B0F0"/>
<circle cx="1239.2" cy="571.3" r="3.45" fill="#00B0F0"/>
<circle cx="1268.4" cy="514.2" r="3.45" fill="#00B0F0"/>
<circle cx="1352.2" cy="604.1" r="3.45" fill="#00B0F0"/>
<circle cx="1380.4" cy="623.2" r="3.45" fill="#00B0F0"/>
<circle cx="1427.3" cy="623.2" r="3.45" fill="#00B0F0"/>
<circle cx="1456.6" cy="623.2" r="3.45" fill="#00B0F0"/>
<circle cx="240.4" cy="666.5" r="3.45" fill="#00B0F0"/>
<circle cx="164.4" cy="747.2" r="3.45" fill="#00B0F0"/>
<circle cx="99.5" cy="790.3" r="3.45" fill="#00B0F0"/>
<circle cx="134.4" cy="799.4" r="3.45" fill="#00B0F0"/>
<circle cx="106.3" cy="808.0" r="3.45" fill="#00B0F0"/>
<circle cx="144.4" cy="823.1" r="3.45" fill="#00B0F0"/>
<circle cx="116.2" cy="837.3" r="3.45" fill="#00B0F0"/>
<circle cx="92.7" cy="865.0" r="3.45" fill="#00B0F0"/>
<circle cx="110.1" cy="875.2" r="3.45" fill="#00B0F0"/>
<circle cx="121.7" cy="883.9" r="3.45" fill="#00B0F0"/>
<circle cx="111.5" cy="894.4" r="3.45" fill="#00B0F0"/>
<circle cx="123.5" cy="894.4" r="3.45" fill="#00B0F0"/>
<circle cx="118.8" cy="913.3" r="3.45" fill="#00B0F0"/>
<circle cx="135.8" cy="913.3" r="3.45" fill="#00B0F0"/>
<circle cx="149.3" cy="904.2" r="3.45" fill="#00B0F0"/>
<circle cx="92.7" cy="937.2" r="3.45" fill="#00B0F0"/>
<circle cx="127.5" cy="932.5" r="3.45" fill="#00B0F0"/>
<circle cx="145.3" cy="932.1" r="3.45" fill="#00B0F0"/>
<circle cx="194.5" cy="828.3" r="3.45" fill="#00B0F0"/>
<circle cx="204.4" cy="823.1" r="3.45" fill="#00B0F0"/>
<circle cx="249.6" cy="823.5" r="3.45" fill="#00B0F0"/>
<circle cx="170.3" cy="842.2" r="3.45" fill="#00B0F0"/>
<circle cx="175.4" cy="847.3" r="3.45" fill="#00B0F0"/>
<circle cx="185.3" cy="842.2" r="3.45" fill="#00B0F0"/>
<circle cx="198.6" cy="847.3" r="3.45" fill="#00B0F0"/>
<circle cx="216.3" cy="851.1" r="3.45" fill="#00B0F0"/>
<circle cx="188.4" cy="875.2" r="3.45" fill="#00B0F0"/>
<circle cx="243.5" cy="875.9" r="3.45" fill="#00B0F0"/>
<circle cx="220.3" cy="886.0" r="3.45" fill="#00B0F0"/>
<circle cx="177.5" cy="894.0" r="3.45" fill="#00B0F0"/>
<circle cx="253.0" cy="884.6" r="3.45" fill="#00B0F0"/>
<circle cx="165.5" cy="912.9" r="3.45" fill="#00B0F0"/>
<circle cx="222.5" cy="907.8" r="3.45" fill="#00B0F0"/>
<circle cx="217.4" cy="913.3" r="3.45" fill="#00B0F0"/>
<circle cx="226.5" cy="913.3" r="3.45" fill="#00B0F0"/>
<circle cx="250.8" cy="907.8" r="3.45" fill="#00B0F0"/>
<circle cx="253.7" cy="923.1" r="3.45" fill="#00B0F0"/>
<circle cx="178.2" cy="932.5" r="3.45" fill="#00B0F0"/>
<circle cx="188.4" cy="937.2" r="3.45" fill="#00B0F0"/>
<circle cx="204.3" cy="937.2" r="3.45" fill="#00B0F0"/>
<circle cx="271.2" cy="728.6" r="3.45" fill="#00B0F0"/>
<circle cx="338.6" cy="723.3" r="3.45" fill="#00B0F0"/>
<circle cx="299.4" cy="771.5" r="3.45" fill="#00B0F0"/>
<circle cx="307.6" cy="785.4" r="3.45" fill="#00B0F0"/>
<circle cx="390.3" cy="652.5" r="3.45" fill="#00B0F0"/>
<circle cx="403.3" cy="661.6" r="3.45" fill="#00B0F0"/>
<circle cx="429.6" cy="671.1" r="3.45" fill="#00B0F0"/>
<circle cx="416.5" cy="680.4" r="3.45" fill="#00B0F0"/>
<circle cx="328.3" cy="694.0" r="3.45" fill="#00B0F0"/>
<circle cx="441.4" cy="704.2" r="3.45" fill="#00B0F0"/>
<circle cx="452.3" cy="709.0" r="3.45" fill="#00B0F0"/>
<circle cx="280.5" cy="828.2" r="3.45" fill="#00B0F0"/>
<circle cx="291.2" cy="837.1" r="3.45" fill="#00B0F0"/>
<circle cx="315.4" cy="856.1" r="3.45" fill="#00B0F0"/>
<circle cx="365.9" cy="855.7" r="3.45" fill="#00B0F0"/>
<circle cx="368.1" cy="851.3" r="3.45" fill="#00B0F0"/>
<circle cx="359.2" cy="878.8" r="3.45" fill="#00B0F0"/>
<circle cx="361.4" cy="899.3" r="3.45" fill="#00B0F0"/>
<circle cx="311.3" cy="885.2" r="3.45" fill="#00B0F0"/>
<circle cx="255.2" cy="904.2" r="3.45" fill="#00B0F0"/>
<circle cx="275.3" cy="904.2" r="3.45" fill="#00B0F0"/>
<circle cx="308.3" cy="904.2" r="3.45" fill="#00B0F0"/>
<circle cx="273.4" cy="913.1" r="3.45" fill="#00B0F0"/>
<circle cx="340.3" cy="913.5" r="3.45" fill="#00B0F0"/>
<circle cx="261.5" cy="932.4" r="3.45" fill="#00B0F0"/>
<circle cx="272.7" cy="937.2" r="3.45" fill="#00B0F0"/>
<circle cx="212.5" cy="794.2" r="3.45" fill="#00B0F0"/>
<circle cx="375.5" cy="818.4" r="3.45" fill="#00B0F0"/>
<circle cx="580.3" cy="647.4" r="3.45" fill="#00B0F0"/>
<circle cx="528.5" cy="671.4" r="3.45" fill="#00B0F0"/>
<circle cx="492.5" cy="671.4" r="3.45" fill="#00B0F0"/>
<circle cx="505.3" cy="676.2" r="3.45" fill="#00B0F0"/>
<circle cx="541.1" cy="685.2" r="3.45" fill="#00B0F0"/>
<circle cx="554.2" cy="680.5" r="3.45" fill="#00B0F0"/>
<circle cx="603.2" cy="684.4" r="3.45" fill="#00B0F0"/>
<circle cx="566.5" cy="699.7" r="3.45" fill="#00B0F0"/>
<circle cx="591.2" cy="722.9" r="3.45" fill="#00B0F0"/>
<circle cx="614.4" cy="728.7" r="3.45" fill="#00B0F0"/>
<circle cx="515.3" cy="732.8" r="3.45" fill="#00B0F0"/>
<circle cx="640.5" cy="742.5" r="3.45" fill="#00B0F0"/>
<circle cx="529.4" cy="937.2" r="3.45" fill="#00B0F0"/>
<circle cx="653.6" cy="670.9" r="3.45" fill="#00B0F0"/>
<circle cx="666.2" cy="670.9" r="3.45" fill="#00B0F0"/>
<circle cx="679.8" cy="680.5" r="3.45" fill="#00B0F0"/>
<circle cx="692.5" cy="676.3" r="3.45" fill="#00B0F0"/>
<circle cx="706.7" cy="666.3" r="3.45" fill="#00B0F0"/>
<circle cx="716.4" cy="788.2" r="3.45" fill="#00B0F0"/>
<circle cx="760.5" cy="832.4" r="3.45" fill="#00B0F0"/>
<circle cx="708.4" cy="889.3" r="3.45" fill="#00B0F0"/>
<circle cx="779.5" cy="908.0" r="3.45" fill="#00B0F0"/>
<circle cx="882.5" cy="680.2" r="3.45" fill="#00B0F0"/>
<circle cx="929.6" cy="704.1" r="3.45" fill="#00B0F0"/>
<circle cx="953.5" cy="733.4" r="3.45" fill="#00B0F0"/>
<circle cx="971.3" cy="728.3" r="3.45" fill="#00B0F0"/>
<circle cx="846.6" cy="798.0" r="3.45" fill="#00B0F0"/>
<circle cx="869.4" cy="823.4" r="3.45" fill="#00B0F0"/>
<circle cx="935.3" cy="818.9" r="3.45" fill="#00B0F0"/>
<circle cx="977.2" cy="818.9" r="3.45" fill="#00B0F0"/>
<circle cx="836.5" cy="847.4" r="3.45" fill="#00B0F0"/>
<circle cx="839.5" cy="870.6" r="3.45" fill="#00B0F0"/>
<circle cx="943.5" cy="851.4" r="3.45" fill="#00B0F0"/>
<circle cx="900.4" cy="899.3" r="3.45" fill="#00B0F0"/>
<circle cx="898.1" cy="923.4" r="3.45" fill="#00B0F0"/>
<circle cx="870.4" cy="937.2" r="3.45" fill="#00B0F0"/>
<circle cx="937.5" cy="904.3" r="3.45" fill="#00B0F0"/>
<circle cx="938.6" cy="918.5" r="3.45" fill="#00B0F0"/>
<circle cx="1036.6" cy="694.5" r="3.45" fill="#00B0F0"/>
<circle cx="1007.3" cy="723.4" r="3.45" fill="#00B0F0"/>
<circle cx="1018.3" cy="737.3" r="3.45" fill="#00B0F0"/>
<circle cx="1083.4" cy="733.4" r="3.45" fill="#00B0F0"/>
<circle cx="1145.4" cy="733.4" r="3.45" fill="#00B0F0"/>
<circle cx="1116.3" cy="747.3" r="3.45" fill="#00B0F0"/>
<circle cx="1154.4" cy="756.3" r="3.45" fill="#00B0F0"/>
<circle cx="1024.4" cy="819.8" r="3.45" fill="#00B0F0"/>
<circle cx="1067.9" cy="814.4" r="3.45" fill="#00B0F0"/>
<circle cx="1134.7" cy="823.6" r="3.45" fill="#00B0F0"/>
<circle cx="1072.2" cy="842.1" r="3.45" fill="#00B0F0"/>
<circle cx="1107.4" cy="847.1" r="3.45" fill="#00B0F0"/>
<circle cx="1121.6" cy="842.4" r="3.45" fill="#00B0F0"/>
<circle cx="1061.4" cy="865.3" r="3.45" fill="#00B0F0"/>
<circle cx="1057.5" cy="875.6" r="3.45" fill="#00B0F0"/>
<circle cx="1102.6" cy="875.6" r="3.45" fill="#00B0F0"/>
<circle cx="1046.4" cy="889.2" r="3.45" fill="#00B0F0"/>
<circle cx="1008.1" cy="913.6" r="3.45" fill="#00B0F0"/>
<circle cx="1091.5" cy="918.5" r="3.45" fill="#00B0F0"/>
<circle cx="1280.0" cy="727.7" r="3.45" fill="#00B0F0"/>
<circle cx="1302.8" cy="733.4" r="3.45" fill="#00B0F0"/>
<circle cx="1330.9" cy="728.0" r="3.45" fill="#00B0F0"/>
<circle cx="1319.4" cy="760.7" r="3.45" fill="#00B0F0"/>
<circle cx="1247.6" cy="781.3" r="3.45" fill="#00B0F0"/>
<circle cx="1289.7" cy="785.4" r="3.45" fill="#00B0F0"/>
<circle cx="1310.6" cy="780.5" r="3.45" fill="#00B0F0"/>
<circle cx="1174.8" cy="837.5" r="3.45" fill="#00B0F0"/>
<circle cx="1198.5" cy="875.6" r="3.45" fill="#00B0F0"/>
<circle cx="1281.5" cy="885.3" r="3.45" fill="#00B0F0"/>
<circle cx="1292.8" cy="885.3" r="3.45" fill="#00B0F0"/>
<circle cx="1320.4" cy="918.5" r="3.45" fill="#00B0F0"/>
<circle cx="1240.6" cy="937.0" r="3.45" fill="#00B0F0"/>
<circle cx="1364.4" cy="685.1" r="3.45" fill="#00B0F0"/>
<circle cx="1406.0" cy="675.6" r="3.45" fill="#00B0F0"/>
<circle cx="1441.0" cy="672.2" r="3.45" fill="#00B0F0"/>
<circle cx="1465.4" cy="747.3" r="3.45" fill="#00B0F0"/>
<circle cx="1393.7" cy="780.5" r="3.45" fill="#00B0F0"/>
<circle cx="1386.0" cy="832.9" r="3.45" fill="#00B0F0"/>
<circle cx="1411.4" cy="837.5" r="3.45" fill="#00B0F0"/>
<circle cx="1539.6" cy="685.5" r="3.45" fill="#00B0F0"/>
<circle cx="1552.3" cy="680.5" r="3.45" fill="#00B0F0"/>
<circle cx="1565.0" cy="666.6" r="3.45" fill="#00B0F0"/>
<circle cx="1526.3" cy="832.4" r="3.45" fill="#00B0F0"/>
<circle cx="1508.6" cy="885.5" r="3.45" fill="#00B0F0"/>
<path d="M60.0,733.6 L63.0,742.8 L66.0,751.7 L69.0,760.3 L72.0,768.5 L75.0,776.4 L78.0,784.0 L81.0,791.3 L84.0,798.3 L87.0,805.0 L90.0,811.4 L93.0,817.6 L96.0,823.5 L99.0,829.1 L102.0,834.5 L105.0,839.6 L108.0,844.4 L111.0,849.0 L114.0,853.4 L117.0,857.6 L120.0,861.5 L123.0,865.2 L126.0,868.7 L129.0,871.9 L132.0,875.0 L135.0,877.9 L138.0,880.5 L141.0,883.0 L144.0,885.3 L147.0,887.4 L150.0,889.3 L153.0,891.1 L156.0,892.7 L159.0,894.1 L162.0,895.4 L165.0,896.5 L168.0,897.4 L171.0,898.2 L174.0,898.9 L177.0,899.4 L180.0,899.8 L183.0,900.1 L186.0,900.2 L189.0,900.2 L192.0,900.1 L195.0,899.9 L198.0,899.6 L201.0,899.1 L204.0,898.6 L207.0,897.9 L210.0,897.2 L213.0,896.3 L216.0,895.4 L219.0,894.4 L222.0,893.3 L225.0,892.1 L228.0,890.8 L231.0,889.4 L234.0,888.0 L237.0,886.5 L240.0,885.0 L243.0,883.4 L246.0,881.7 L249.0,879.9 L252.0,878.1 L255.0,876.3 L258.0,874.4 L261.0,872.4 L264.0,870.4 L267.0,868.4 L270.0,866.3 L273.0,864.2 L276.0,862.0 L279.0,859.8 L282.0,857.6 L285.0,855.4 L288.0,853.1 L291.0,850.8 L294.0,848.4 L297.0,846.1 L300.0,843.7 L303.0,841.3 L306.0,838.9 L309.0,836.5 L312.0,834.1 L315.0,831.6 L318.0,829.2 L321.0,826.7 L324.0,824.2 L327.0,821.8 L330.0,819.3 L333.0,816.8 L336.0,814.4 L339.0,811.9 L342.0,809.4 L345.0,807.0 L348.0,804.5 L351.0,802.1 L354.0,799.6 L357.0,797.2 L360.0,794.8 L363.0,792.4 L366.0,790.0 L369.0,787.6 L372.0,785.2 L375.0,782.9 L378.0,780.5 L381.0,778.2 L384.0,775.9 L387.0,773.7 L390.0,771.4 L393.0,769.2 L396.0,767.0 L399.0,764.8 L402.0,762.6 L405.0,760.5 L408.0,758.4 L411.0,756.3 L414.0,754.3 L417.0,752.2 L420.0,750.3 L423.0,748.3 L426.0,746.4 L429.0,744.4 L432.0,742.6 L435.0,740.7 L438.0,738.9 L441.0,737.1 L444.0,735.4 L447.0,733.7 L450.0,732.0 L453.0,730.3 L456.0,728.7 L459.0,727.2 L462.0,725.6 L465.0,724.1 L468.0,722.6 L471.0,721.2 L474.0,719.8 L477.0,718.4 L480.0,717.1 L483.0,715.8 L486.0,714.5 L489.0,713.3 L492.0,712.1 L495.0,711.0 L498.0,709.8 L501.0,708.8 L504.0,707.7 L507.0,706.7 L510.0,705.8 L513.0,704.8 L516.0,703.9 L519.0,703.1 L522.0,702.2 L525.0,701.5 L528.0,700.7 L531.0,700.0 L534.0,699.3 L537.0,698.7 L540.0,698.1 L543.0,697.5 L546.0,697.0 L549.0,696.4 L552.0,696.0 L555.0,695.5 L558.0,695.2 L561.0,694.8 L564.0,694.5 L567.0,694.2 L570.0,693.9 L573.0,693.7 L576.0,693.5 L579.0,693.3 L582.0,693.2 L585.0,693.1 L588.0,693.0 L591.0,693.0 L594.0,692.9 L597.0,693.0 L600.0,693.0 L603.0,693.1 L606.0,693.2 L609.0,693.3 L612.0,693.5 L615.0,693.7 L618.0,693.9 L621.0,694.2 L624.0,694.5 L627.0,694.8 L630.0,695.1 L633.0,695.4 L636.0,695.8 L639.0,696.2 L642.0,696.7 L645.0,697.1 L648.0,697.6 L651.0,698.1 L654.0,698.6 L657.0,699.1 L660.0,699.7 L663.0,700.3 L666.0,700.9 L669.0,701.5 L672.0,702.2 L675.0,702.8 L678.0,703.5 L681.0,704.2 L684.0,704.9 L687.0,705.6 L690.0,706.4 L693.0,707.2 L696.0,707.9 L699.0,708.7 L702.0,709.5 L705.0,710.4 L708.0,711.2 L711.0,712.0 L714.0,712.9 L717.0,713.8 L720.0,714.7 L723.0,715.6 L726.0,716.5 L729.0,717.4 L732.0,718.3 L735.0,719.2 L738.0,720.2 L741.0,721.1 L744.0,722.1 L747.0,723.0 L750.0,724.0 L753.0,725.0 L756.0,725.9 L759.0,726.9 L762.0,727.9 L765.0,728.9 L768.0,729.9 L771.0,730.9 L774.0,731.9 L777.0,732.9 L780.0,733.9 L783.0,734.9 L786.0,735.9 L789.0,736.9 L792.0,737.9 L795.0,738.9 L798.0,739.9 L801.0,740.9 L804.0,741.9 L807.0,742.9 L810.0,743.9 L813.0,744.9 L816.0,745.8 L819.0,746.8 L822.0,747.8 L825.0,748.8 L828.0,749.7 L831.0,750.7 L834.0,751.6 L837.0,752.6 L840.0,753.5 L843.0,754.4 L846.0,755.3 L849.0,756.2 L852.0,757.1 L855.0,758.0 L858.0,758.9 L861.0,759.8 L864.0,760.6 L867.0,761.5 L870.0,762.3 L873.0,763.1 L876.0,763.9 L879.0,764.7 L882.0,765.5 L885.0,766.3 L888.0,767.1 L891.0,767.8 L894.0,768.6 L897.0,769.3 L900.0,770.0 L903.0,770.7 L906.0,771.4 L909.0,772.0 L912.0,772.7 L915.0,773.3 L918.0,773.9 L921.0,774.5 L924.0,775.1 L927.0,775.7 L930.0,776.2 L933.0,776.8 L936.0,777.3 L939.0,777.8 L942.0,778.3 L945.0,778.8 L948.0,779.2 L951.0,779.6 L954.0,780.1 L957.0,780.5 L960.0,780.8 L963.0,781.2 L966.0,781.5 L969.0,781.9 L972.0,782.2 L975.0,782.5 L978.0,782.7 L981.0,783.0 L984.0,783.2 L987.0,783.4 L990.0,783.6 L993.0,783.8 L996.0,783.9 L999.0,784.1 L1002.0,784.2 L1005.0,784.3 L1008.0,784.4 L1011.0,784.4 L1014.0,784.5 L1017.0,784.5 L1020.0,784.5 L1023.0,784.5 L1026.0,784.4 L1029.0,784.4 L1032.0,784.3 L1035.0,784.2 L1038.0,784.1 L1041.0,783.9 L1044.0,783.8 L1047.0,783.6 L1050.0,783.4 L1053.0,783.2 L1056.0,783.0 L1059.0,782.7 L1062.0,782.5 L1065.0,782.2 L1068.0,781.9 L1071.0,781.6 L1074.0,781.2 L1077.0,780.9 L1080.0,780.5 L1083.0,780.1 L1086.0,779.7 L1089.0,779.3 L1092.0,778.9 L1095.0,778.4 L1098.0,777.9 L1101.0,777.4 L1104.0,776.9 L1107.0,776.4 L1110.0,775.9 L1113.0,775.3 L1116.0,774.8 L1119.0,774.2 L1122.0,773.6 L1125.0,773.0 L1128.0,772.3 L1131.0,771.7 L1134.0,771.0 L1137.0,770.4 L1140.0,769.7 L1143.0,769.0 L1146.0,768.3 L1149.0,767.5 L1152.0,766.8 L1155.0,766.1 L1158.0,765.3 L1161.0,764.5 L1164.0,763.8 L1167.0,763.0 L1170.0,762.2 L1173.0,761.3 L1176.0,760.5 L1179.0,759.7 L1182.0,758.8 L1185.0,758.0 L1188.0,757.1 L1191.0,756.3 L1194.0,755.4 L1197.0,754.5 L1200.0,753.6 L1203.0,752.7 L1206.0,751.8 L1209.0,750.9 L1212.0,749.9 L1215.0,749.0 L1218.0,748.1 L1221.0,747.1 L1224.0,746.2 L1227.0,745.3 L1230.0,744.3 L1233.0,743.3 L1236.0,742.4 L1239.0,741.4 L1242.0,740.5 L1245.0,739.5 L1248.0,738.5 L1251.0,737.5 L1254.0,736.6 L1257.0,735.6 L1260.0,734.6 L1263.0,733.6 L1266.0,732.6 L1269.0,731.7 L1272.0,730.7 L1275.0,729.7 L1278.0,728.7 L1281.0,727.7 L1284.0,726.8 L1287.0,725.8 L1290.0,724.8 L1293.0,723.8 L1296.0,722.9 L1299.0,721.9 L1302.0,721.0 L1305.0,720.0 L1308.0,719.0 L1311.0,718.1 L1314.0,717.1 L1317.0,716.2 L1320.0,715.3 L1323.0,714.3 L1326.0,713.4 L1329.0,712.5 L1332.0,711.6 L1335.0,710.7 L1338.0,709.8 L1341.0,708.9 L1344.0,708.0 L1347.0,707.1 L1350.0,706.2 L1353.0,705.3 L1356.0,704.5 L1359.0,703.6 L1362.0,702.8 L1365.0,701.9 L1368.0,701.1 L1371.0,700.3 L1374.0,699.5 L1377.0,698.7 L1380.0,697.9 L1383.0,697.1 L1386.0,696.3 L1389.0,695.6 L1392.0,694.8 L1395.0,694.0 L1398.0,693.3 L1401.0,692.6 L1404.0,691.8 L1407.0,691.1 L1410.0,690.4 L1413.0,689.7 L1416.0,689.0 L1419.0,688.4 L1422.0,687.7 L1425.0,687.0 L1428.0,686.4 L1431.0,685.7 L1434.0,685.1 L1437.0,684.5 L1440.0,683.9 L1443.0,683.3 L1446.0,682.7 L1449.0,682.1 L1452.0,681.5 L1455.0,680.9 L1458.0,680.3 L1461.0,679.8 L1464.0,679.2 L1467.0,678.7 L1470.0,678.1 L1473.0,677.6 L1476.0,677.0 L1479.0,676.5 L1482.0,676.0 L1485.0,675.5 L1488.0,674.9 L1491.0,674.4 L1494.0,673.9 L1497.0,673.4 L1500.0,672.9 L1503.0,672.4 L1506.0,671.9 L1509.0,671.4 L1512.0,670.9 L1515.0,670.4 L1518.0,669.9 L1521.0,669.3 L1524.0,668.8 L1527.0,668.3 L1530.0,667.8 L1533.0,667.3 L1536.0,666.7 L1539.0,666.2 L1542.0,665.6 L1545.0,665.1 L1548.0,664.5 L1551.0,663.9 L1554.0,663.3 L1557.0,662.7 L1560.0,662.1 L1563.0,661.5 L1566.0,660.8 L1568.0,660.4" fill="none" stroke="#7030A0" stroke-width="4.0" stroke-linejoin="round" stroke-linecap="round"/>
<path d="M60.0,770.6 L63.0,776.8 L66.0,782.9 L69.0,788.7 L72.0,794.3 L75.0,799.7 L78.0,804.9 L81.0,809.8 L84.0,814.6 L87.0,819.2 L90.0,823.6 L93.0,827.8 L96.0,831.8 L99.0,835.6 L102.0,839.2 L105.0,842.7 L108.0,846.0 L111.0,849.1 L114.0,852.1 L117.0,854.9 L120.0,857.6 L123.0,860.1 L126.0,862.5 L129.0,864.7 L132.0,866.7 L135.0,868.7 L138.0,870.5 L141.0,872.2 L144.0,873.7 L147.0,875.1 L150.0,876.4 L153.0,877.6 L156.0,878.7 L159.0,879.6 L162.0,880.5 L165.0,881.2 L168.0,881.8 L171.0,882.4 L174.0,882.8 L177.0,883.1 L180.0,883.4 L183.0,883.5 L186.0,883.6 L189.0,883.6 L192.0,883.5 L195.0,883.3 L198.0,883.1 L201.0,882.8 L204.0,882.4 L207.0,881.9 L210.0,881.4 L213.0,880.8 L216.0,880.1 L219.0,879.4 L222.0,878.6 L225.0,877.8 L228.0,876.9 L231.0,875.9 L234.0,875.0 L237.0,873.9 L240.0,872.8 L243.0,871.7 L246.0,870.6 L249.0,869.3 L252.0,868.1 L255.0,866.8 L258.0,865.5 L261.0,864.2 L264.0,862.8 L267.0,861.4 L270.0,859.9 L273.0,858.5 L276.0,857.0 L279.0,855.5 L282.0,853.9 L285.0,852.4 L288.0,850.8 L291.0,849.2 L294.0,847.6 L297.0,846.0 L300.0,844.4 L303.0,842.8 L306.0,841.1 L309.0,839.5 L312.0,837.8 L315.0,836.1 L318.0,834.4 L321.0,832.8 L324.0,831.1 L327.0,829.4 L330.0,827.7 L333.0,826.0 L336.0,824.3 L339.0,822.7 L342.0,821.0 L345.0,819.3 L348.0,817.6 L351.0,816.0 L354.0,814.3 L357.0,812.7 L360.0,811.0 L363.0,809.4 L366.0,807.8 L369.0,806.2 L372.0,804.6 L375.0,803.0 L378.0,801.4 L381.0,799.9 L384.0,798.3 L387.0,796.8 L390.0,795.3 L393.0,793.8 L396.0,792.3 L399.0,790.9 L402.0,789.4 L405.0,788.0 L408.0,786.6 L411.0,785.2 L414.0,783.9 L417.0,782.5 L420.0,781.2 L423.0,779.9 L426.0,778.6 L429.0,777.4 L432.0,776.1 L435.0,774.9 L438.0,773.7 L441.0,772.6 L444.0,771.4 L447.0,770.3 L450.0,769.2 L453.0,768.2 L456.0,767.1 L459.0,766.1 L462.0,765.1 L465.0,764.1 L468.0,763.2 L471.0,762.3 L474.0,761.4 L477.0,760.5 L480.0,759.7 L483.0,758.9 L486.0,758.1 L489.0,757.4 L492.0,756.6 L495.0,755.9 L498.0,755.2 L501.0,754.6 L504.0,754.0 L507.0,753.4 L510.0,752.8 L513.0,752.2 L516.0,751.7 L519.0,751.2 L522.0,750.8 L525.0,750.3 L528.0,749.9 L531.0,749.5 L534.0,749.2 L537.0,748.8 L540.0,748.5 L543.0,748.2 L546.0,748.0 L549.0,747.7 L552.0,747.5 L555.0,747.3 L558.0,747.2 L561.0,747.0 L564.0,746.9 L567.0,746.8 L570.0,746.8 L573.0,746.7 L576.0,746.7 L579.0,746.7 L582.0,746.8 L585.0,746.8 L588.0,746.9 L591.0,747.0 L594.0,747.1 L597.0,747.2 L600.0,747.4 L603.0,747.6 L606.0,747.8 L609.0,748.0 L612.0,748.3 L615.0,748.5 L618.0,748.8 L621.0,749.1 L624.0,749.5 L627.0,749.8 L630.0,750.2 L633.0,750.5 L636.0,750.9 L639.0,751.4 L642.0,751.8 L645.0,752.2 L648.0,752.7 L651.0,753.2 L654.0,753.7 L657.0,754.2 L660.0,754.7 L663.0,755.3 L666.0,755.8 L669.0,756.4 L672.0,757.0 L675.0,757.6 L678.0,758.2 L681.0,758.8 L684.0,759.4 L687.0,760.1 L690.0,760.7 L693.0,761.4 L696.0,762.1 L699.0,762.8 L702.0,763.5 L705.0,764.2 L708.0,764.9 L711.0,765.6 L714.0,766.3 L717.0,767.1 L720.0,767.8 L723.0,768.6 L726.0,769.3 L729.0,770.1 L732.0,770.8 L735.0,771.6 L738.0,772.4 L741.0,773.2 L744.0,774.0 L747.0,774.8 L750.0,775.6 L753.0,776.4 L756.0,777.2 L759.0,778.0 L762.0,778.8 L765.0,779.6 L768.0,780.4 L771.0,781.2 L774.0,782.0 L777.0,782.8 L780.0,783.6 L783.0,784.4 L786.0,785.2 L789.0,786.0 L792.0,786.8 L795.0,787.6 L798.0,788.4 L801.0,789.2 L804.0,789.9 L807.0,790.7 L810.0,791.5 L813.0,792.3 L816.0,793.0 L819.0,793.8 L822.0,794.6 L825.0,795.3 L828.0,796.0 L831.0,796.8 L834.0,797.5 L837.0,798.2 L840.0,798.9 L843.0,799.6 L846.0,800.3 L849.0,801.0 L852.0,801.7 L855.0,802.4 L858.0,803.0 L861.0,803.7 L864.0,804.3 L867.0,804.9 L870.0,805.6 L873.0,806.2 L876.0,806.8 L879.0,807.3 L882.0,807.9 L885.0,808.5 L888.0,809.0 L891.0,809.5 L894.0,810.0 L897.0,810.6 L900.0,811.0 L903.0,811.5 L906.0,812.0 L909.0,812.4 L912.0,812.9 L915.0,813.3 L918.0,813.7 L921.0,814.1 L924.0,814.4 L927.0,814.8 L930.0,815.1 L933.0,815.5 L936.0,815.8 L939.0,816.1 L942.0,816.4 L945.0,816.6 L948.0,816.9 L951.0,817.1 L954.0,817.3 L957.0,817.5 L960.0,817.6 L963.0,817.8 L966.0,817.9 L969.0,818.1 L972.0,818.2 L975.0,818.2 L978.0,818.3 L981.0,818.4 L984.0,818.4 L987.0,818.4 L990.0,818.4 L993.0,818.4 L996.0,818.3 L999.0,818.2 L1002.0,818.2 L1005.0,818.1 L1008.0,817.9 L1011.0,817.8 L1014.0,817.6 L1017.0,817.5 L1020.0,817.3 L1023.0,817.0 L1026.0,816.8 L1029.0,816.5 L1032.0,816.3 L1035.0,816.0 L1038.0,815.7 L1041.0,815.3 L1044.0,815.0 L1047.0,814.6 L1050.0,814.2 L1053.0,813.8 L1056.0,813.4 L1059.0,812.9 L1062.0,812.4 L1065.0,811.9 L1068.0,811.4 L1071.0,810.9 L1074.0,810.4 L1077.0,809.8 L1080.0,809.2 L1083.0,808.6 L1086.0,808.0 L1089.0,807.4 L1092.0,806.7 L1095.0,806.0 L1098.0,805.3 L1101.0,804.6 L1104.0,803.9 L1107.0,803.2 L1110.0,802.4 L1113.0,801.6 L1116.0,800.8 L1119.0,800.0 L1122.0,799.2 L1125.0,798.3 L1128.0,797.4 L1131.0,796.6 L1134.0,795.7 L1137.0,794.7 L1140.0,793.8 L1143.0,792.9 L1146.0,791.9 L1149.0,790.9 L1152.0,789.9 L1155.0,788.9 L1158.0,787.9 L1161.0,786.9 L1164.0,785.8 L1167.0,784.8 L1170.0,783.7 L1173.0,782.6 L1176.0,781.5 L1179.0,780.4 L1182.0,779.2 L1185.0,778.1 L1188.0,776.9 L1191.0,775.8 L1194.0,774.6 L1197.0,773.4 L1200.0,772.2 L1203.0,771.0 L1206.0,769.7 L1209.0,768.5 L1212.0,767.2 L1215.0,766.0 L1218.0,764.7 L1221.0,763.5 L1224.0,762.2 L1227.0,760.9 L1230.0,759.6 L1233.0,758.3 L1236.0,756.9 L1239.0,755.6 L1242.0,754.3 L1245.0,753.0 L1248.0,751.6 L1251.0,750.3 L1254.0,748.9 L1257.0,747.5 L1260.0,746.2 L1263.0,744.8 L1266.0,743.4 L1269.0,742.0 L1272.0,740.7 L1275.0,739.3 L1278.0,737.9 L1281.0,736.5 L1284.0,735.1 L1287.0,733.7 L1290.0,732.3 L1293.0,730.9 L1296.0,729.5 L1299.0,728.1 L1302.0,726.7 L1305.0,725.3 L1308.0,723.9 L1311.0,722.4 L1314.0,721.0 L1317.0,719.6 L1320.0,718.2 L1323.0,716.8 L1326.0,715.5 L1329.0,714.1 L1332.0,712.7 L1335.0,711.3 L1338.0,709.9 L1341.0,708.5 L1344.0,707.1 L1347.0,705.8 L1350.0,704.4 L1353.0,703.1 L1356.0,701.7 L1359.0,700.4 L1362.0,699.0 L1365.0,697.7 L1368.0,696.4 L1371.0,695.0 L1374.0,693.7 L1377.0,692.4 L1380.0,691.1 L1383.0,689.9 L1386.0,688.6 L1389.0,687.3 L1392.0,686.1 L1395.0,684.8 L1398.0,683.6 L1401.0,682.4 L1404.0,681.1 L1407.0,679.9 L1410.0,678.8 L1413.0,677.6 L1416.0,676.4 L1419.0,675.3 L1422.0,674.1 L1425.0,673.0 L1428.0,671.9 L1431.0,670.8 L1434.0,669.7 L1437.0,668.6 L1440.0,667.6 L1443.0,666.5 L1446.0,665.5 L1449.0,664.5 L1452.0,663.5 L1455.0,662.5 L1458.0,661.5 L1461.0,660.6 L1464.0,659.6 L1467.0,658.7 L1470.0,657.8 L1473.0,656.9 L1476.0,656.1 L1479.0,655.2 L1482.0,654.4 L1485.0,653.6 L1488.0,652.7 L1491.0,652.0 L1494.0,651.2 L1497.0,650.5 L1500.0,649.7 L1503.0,649.0 L1506.0,648.3 L1509.0,647.6 L1512.0,647.0 L1515.0,646.3 L1518.0,645.7 L1521.0,645.1 L1524.0,644.5 L1527.0,644.0 L1530.0,643.4 L1533.0,642.9 L1536.0,642.4 L1539.0,641.9 L1542.0,641.4 L1545.0,641.0 L1548.0,640.5 L1551.0,640.1 L1554.0,639.7 L1557.0,639.3 L1560.0,638.9 L1563.0,638.6 L1566.0,638.3 L1568.0,638.0" fill="none" stroke="#FF0000" stroke-width="4.0" stroke-linejoin="round" stroke-linecap="round"/>
<path d="M60.0,840.0 L63.0,843.9 L66.0,847.5 L69.0,851.0 L72.0,854.3 L75.0,857.4 L78.0,860.4 L81.0,863.2 L84.0,865.9 L87.0,868.4 L90.0,870.7 L93.0,872.9 L96.0,875.0 L99.0,876.9 L102.0,878.7 L105.0,880.3 L108.0,881.8 L111.0,883.2 L114.0,884.5 L117.0,885.7 L120.0,886.7 L123.0,887.6 L126.0,888.4 L129.0,889.1 L132.0,889.7 L135.0,890.2 L138.0,890.6 L141.0,890.9 L144.0,891.1 L147.0,891.2 L150.0,891.3 L153.0,891.2 L156.0,891.0 L159.0,890.8 L162.0,890.5 L165.0,890.1 L168.0,889.7 L171.0,889.1 L174.0,888.6 L177.0,887.9 L180.0,887.2 L183.0,886.4 L186.0,885.5 L189.0,884.6 L192.0,883.7 L195.0,882.6 L198.0,881.6 L201.0,880.5 L204.0,879.3 L207.0,878.1 L210.0,876.8 L213.0,875.5 L216.0,874.2 L219.0,872.8 L222.0,871.4 L225.0,870.0 L228.0,868.5 L231.0,867.0 L234.0,865.4 L237.0,863.9 L240.0,862.3 L243.0,860.7 L246.0,859.0 L249.0,857.4 L252.0,855.7 L255.0,854.0 L258.0,852.3 L261.0,850.5 L264.0,848.8 L267.0,847.0 L270.0,845.2 L273.0,843.5 L276.0,841.7 L279.0,839.9 L282.0,838.1 L285.0,836.2 L288.0,834.4 L291.0,832.6 L294.0,830.8 L297.0,828.9 L300.0,827.1 L303.0,825.3 L306.0,823.5 L309.0,821.6 L312.0,819.8 L315.0,818.0 L318.0,816.2 L321.0,814.4 L324.0,812.6 L327.0,810.8 L330.0,809.0 L333.0,807.2 L336.0,805.5 L339.0,803.7 L342.0,802.0 L345.0,800.3 L348.0,798.5 L351.0,796.8 L354.0,795.2 L357.0,793.5 L360.0,791.8 L363.0,790.2 L366.0,788.6 L369.0,787.0 L372.0,785.4 L375.0,783.8 L378.0,782.3 L381.0,780.7 L384.0,779.2 L387.0,777.7 L390.0,776.3 L393.0,774.8 L396.0,773.4 L399.0,772.0 L402.0,770.6 L405.0,769.2 L408.0,767.9 L411.0,766.6 L414.0,765.3 L417.0,764.0 L420.0,762.7 L423.0,761.5 L426.0,760.3 L429.0,759.1 L432.0,758.0 L435.0,756.9 L438.0,755.8 L441.0,754.7 L444.0,753.6 L447.0,752.6 L450.0,751.6 L453.0,750.6 L456.0,749.7 L459.0,748.8 L462.0,747.9 L465.0,747.0 L468.0,746.1 L471.0,745.3 L474.0,744.5 L477.0,743.7 L480.0,743.0 L483.0,742.3 L486.0,741.6 L489.0,740.9 L492.0,740.3 L495.0,739.7 L498.0,739.1 L501.0,738.5 L504.0,738.0 L507.0,737.5 L510.0,737.0 L513.0,736.5 L516.0,736.1 L519.0,735.7 L522.0,735.3 L525.0,734.9 L528.0,734.6 L531.0,734.3 L534.0,734.0 L537.0,733.7 L540.0,733.4 L543.0,733.2 L546.0,733.0 L549.0,732.9 L552.0,732.7 L555.0,732.6 L558.0,732.5 L561.0,732.4 L564.0,732.3 L567.0,732.3 L570.0,732.3 L573.0,732.3 L576.0,732.3 L579.0,732.3 L582.0,732.4 L585.0,732.5 L588.0,732.6 L591.0,732.7 L594.0,732.9 L597.0,733.0 L600.0,733.2 L603.0,733.4 L606.0,733.6 L609.0,733.9 L612.0,734.1 L615.0,734.4 L618.0,734.7 L621.0,735.0 L624.0,735.3 L627.0,735.7 L630.0,736.0 L633.0,736.4 L636.0,736.8 L639.0,737.2 L642.0,737.6 L645.0,738.0 L648.0,738.4 L651.0,738.9 L654.0,739.4 L657.0,739.8 L660.0,740.3 L663.0,740.8 L666.0,741.4 L669.0,741.9 L672.0,742.4 L675.0,743.0 L678.0,743.5 L681.0,744.1 L684.0,744.7 L687.0,745.3 L690.0,745.9 L693.0,746.5 L696.0,747.1 L699.0,747.7 L702.0,748.3 L705.0,749.0 L708.0,749.6 L711.0,750.3 L714.0,750.9 L717.0,751.6 L720.0,752.3 L723.0,752.9 L726.0,753.6 L729.0,754.3 L732.0,755.0 L735.0,755.7 L738.0,756.3 L741.0,757.0 L744.0,757.7 L747.0,758.4 L750.0,759.1 L753.0,759.8 L756.0,760.6 L759.0,761.3 L762.0,762.0 L765.0,762.7 L768.0,763.4 L771.0,764.1 L774.0,764.8 L777.0,765.5 L780.0,766.2 L783.0,766.9 L786.0,767.6 L789.0,768.3 L792.0,769.0 L795.0,769.7 L798.0,770.4 L801.0,771.1 L804.0,771.8 L807.0,772.4 L810.0,773.1 L813.0,773.8 L816.0,774.5 L819.0,775.1 L822.0,775.8 L825.0,776.4 L828.0,777.1 L831.0,777.7 L834.0,778.4 L837.0,779.0 L840.0,779.6 L843.0,780.2 L846.0,780.8 L849.0,781.4 L852.0,782.0 L855.0,782.6 L858.0,783.2 L861.0,783.8 L864.0,784.3 L867.0,784.9 L870.0,785.4 L873.0,785.9 L876.0,786.5 L879.0,787.0 L882.0,787.5 L885.0,788.0 L888.0,788.5 L891.0,788.9 L894.0,789.4 L897.0,789.8 L900.0,790.3 L903.0,790.7 L906.0,791.1 L909.0,791.6 L912.0,791.9 L915.0,792.3 L918.0,792.7 L921.0,793.1 L924.0,793.4 L927.0,793.8 L930.0,794.1 L933.0,794.4 L936.0,794.7 L939.0,795.0 L942.0,795.3 L945.0,795.5 L948.0,795.8 L951.0,796.0 L954.0,796.3 L957.0,796.5 L960.0,796.7 L963.0,796.9 L966.0,797.0 L969.0,797.2 L972.0,797.3 L975.0,797.5 L978.0,797.6 L981.0,797.7 L984.0,797.8 L987.0,797.9 L990.0,797.9 L993.0,798.0 L996.0,798.0 L999.0,798.1 L1002.0,798.1 L1005.0,798.1 L1008.0,798.1 L1011.0,798.0 L1014.0,798.0 L1017.0,797.9 L1020.0,797.9 L1023.0,797.8 L1026.0,797.7 L1029.0,797.6 L1032.0,797.4 L1035.0,797.3 L1038.0,797.2 L1041.0,797.0 L1044.0,796.8 L1047.0,796.6 L1050.0,796.4 L1053.0,796.2 L1056.0,796.0 L1059.0,795.7 L1062.0,795.5 L1065.0,795.2 L1068.0,794.9 L1071.0,794.6 L1074.0,794.3 L1077.0,794.0 L1080.0,793.7 L1083.0,793.3 L1086.0,793.0 L1089.0,792.6 L1092.0,792.2 L1095.0,791.8 L1098.0,791.4 L1101.0,791.0 L1104.0,790.6 L1107.0,790.1 L1110.0,789.7 L1113.0,789.2 L1116.0,788.7 L1119.0,788.3 L1122.0,787.8 L1125.0,787.2 L1128.0,786.7 L1131.0,786.2 L1134.0,785.7 L1137.0,785.1 L1140.0,784.6 L1143.0,784.0 L1146.0,783.4 L1149.0,782.8 L1152.0,782.2 L1155.0,781.6 L1158.0,781.0 L1161.0,780.4 L1164.0,779.7 L1167.0,779.1 L1170.0,778.4 L1173.0,777.8 L1176.0,777.1 L1179.0,776.4 L1182.0,775.7 L1185.0,775.0 L1188.0,774.3 L1191.0,773.6 L1194.0,772.9 L1197.0,772.2 L1200.0,771.5 L1203.0,770.7 L1206.0,770.0 L1209.0,769.2 L1212.0,768.5 L1215.0,767.7 L1218.0,766.9 L1221.0,766.1 L1224.0,765.4 L1227.0,764.6 L1230.0,763.8 L1233.0,763.0 L1236.0,762.2 L1239.0,761.4 L1242.0,760.6 L1245.0,759.7 L1248.0,758.9 L1251.0,758.1 L1254.0,757.3 L1257.0,756.4 L1260.0,755.6 L1263.0,754.7 L1266.0,753.9 L1269.0,753.0 L1272.0,752.2 L1275.0,751.3 L1278.0,750.5 L1281.0,749.6 L1284.0,748.7 L1287.0,747.8 L1290.0,747.0 L1293.0,746.1 L1296.0,745.2 L1299.0,744.3 L1302.0,743.4 L1305.0,742.5 L1308.0,741.7 L1311.0,740.8 L1314.0,739.9 L1317.0,739.0 L1320.0,738.1 L1323.0,737.2 L1326.0,736.3 L1329.0,735.4 L1332.0,734.4 L1335.0,733.5 L1338.0,732.6 L1341.0,731.7 L1344.0,730.8 L1347.0,729.9 L1350.0,729.0 L1353.0,728.0 L1356.0,727.1 L1359.0,726.2 L1362.0,725.3 L1365.0,724.3 L1368.0,723.4 L1371.0,722.5 L1374.0,721.5 L1377.0,720.6 L1380.0,719.6 L1383.0,718.7 L1386.0,717.8 L1389.0,716.8 L1392.0,715.9 L1395.0,714.9 L1398.0,713.9 L1401.0,713.0 L1404.0,712.0 L1407.0,711.0 L1410.0,710.1 L1413.0,709.1 L1416.0,708.1 L1419.0,707.1 L1422.0,706.1 L1425.0,705.2 L1428.0,704.2 L1431.0,703.1 L1434.0,702.1 L1437.0,701.1 L1440.0,700.1 L1443.0,699.1 L1446.0,698.0 L1449.0,697.0 L1452.0,695.9 L1455.0,694.9 L1458.0,693.8 L1461.0,692.7 L1464.0,691.7 L1467.0,690.6 L1470.0,689.5 L1473.0,688.3 L1476.0,687.2 L1479.0,686.1 L1482.0,684.9 L1485.0,683.8 L1488.0,682.6 L1491.0,681.4 L1494.0,680.2 L1497.0,679.0 L1500.0,677.8 L1503.0,676.5 L1506.0,675.2 L1509.0,674.0 L1512.0,672.7 L1515.0,671.3 L1518.0,670.0 L1521.0,668.7 L1524.0,667.3 L1527.0,665.9 L1530.0,664.5 L1533.0,663.0 L1536.0,661.5 L1539.0,660.1 L1542.0,658.5 L1545.0,657.0 L1548.0,655.4 L1551.0,653.8 L1554.0,652.2 L1557.0,650.5 L1560.0,648.8 L1563.0,647.1 L1566.0,645.4 L1568.0,644.2" fill="none" stroke="#FFFF00" stroke-width="4.0" stroke-linejoin="round" stroke-linecap="round"/>
<path d="M60.0,786.5 L63.0,792.5 L66.0,798.3 L69.0,803.9 L72.0,809.2 L75.0,814.3 L78.0,819.2 L81.0,823.8 L84.0,828.2 L87.0,832.5 L90.0,836.5 L93.0,840.3 L96.0,844.0 L99.0,847.4 L102.0,850.6 L105.0,853.7 L108.0,856.6 L111.0,859.3 L114.0,861.9 L117.0,864.2 L120.0,866.4 L123.0,868.5 L126.0,870.4 L129.0,872.2 L132.0,873.8 L135.0,875.2 L138.0,876.6 L141.0,877.7 L144.0,878.8 L147.0,879.7 L150.0,880.5 L153.0,881.2 L156.0,881.8 L159.0,882.2 L162.0,882.5 L165.0,882.8 L168.0,882.9 L171.0,882.9 L174.0,882.8 L177.0,882.6 L180.0,882.4 L183.0,882.0 L186.0,881.5 L189.0,881.0 L192.0,880.4 L195.0,879.7 L198.0,878.9 L201.0,878.1 L204.0,877.1 L207.0,876.2 L210.0,875.1 L213.0,874.0 L216.0,872.8 L219.0,871.6 L222.0,870.3 L225.0,868.9 L228.0,867.5 L231.0,866.1 L234.0,864.6 L237.0,863.0 L240.0,861.4 L243.0,859.8 L246.0,858.1 L249.0,856.4 L252.0,854.7 L255.0,852.9 L258.0,851.1 L261.0,849.2 L264.0,847.4 L267.0,845.5 L270.0,843.6 L273.0,841.6 L276.0,839.7 L279.0,837.7 L282.0,835.7 L285.0,833.7 L288.0,831.7 L291.0,829.6 L294.0,827.6 L297.0,825.5 L300.0,823.5 L303.0,821.4 L306.0,819.3 L309.0,817.2 L312.0,815.1 L315.0,813.0 L318.0,811.0 L321.0,808.9 L324.0,806.8 L327.0,804.7 L330.0,802.6 L333.0,800.5 L336.0,798.5 L339.0,796.4 L342.0,794.3 L345.0,792.3 L348.0,790.3 L351.0,788.2 L354.0,786.2 L357.0,784.2 L360.0,782.2 L363.0,780.3 L366.0,778.3 L369.0,776.4 L372.0,774.5 L375.0,772.6 L378.0,770.7 L381.0,768.8 L384.0,766.9 L387.0,765.1 L390.0,763.3 L393.0,761.5 L396.0,759.8 L399.0,758.0 L402.0,756.3 L405.0,754.6 L408.0,753.0 L411.0,751.3 L414.0,749.7 L417.0,748.1 L420.0,746.5 L423.0,745.0 L426.0,743.5 L429.0,742.0 L432.0,740.5 L435.0,739.1 L438.0,737.7 L441.0,736.3 L444.0,735.0 L447.0,733.7 L450.0,732.4 L453.0,731.1 L456.0,729.9 L459.0,728.7 L462.0,727.5 L465.0,726.4 L468.0,725.2 L471.0,724.2 L474.0,723.1 L477.0,722.1 L480.0,721.1 L483.0,720.1 L486.0,719.2 L489.0,718.3 L492.0,717.5 L495.0,716.6 L498.0,715.8 L501.0,715.0 L504.0,714.3 L507.0,713.6 L510.0,712.9 L513.0,712.2 L516.0,711.6 L519.0,711.0 L522.0,710.5 L525.0,709.9 L528.0,709.4 L531.0,708.9 L534.0,708.5 L537.0,708.1 L540.0,707.7 L543.0,707.3 L546.0,707.0 L549.0,706.7 L552.0,706.4 L555.0,706.2 L558.0,706.0 L561.0,705.8 L564.0,705.6 L567.0,705.5 L570.0,705.4 L573.0,705.3 L576.0,705.3 L579.0,705.2 L582.0,705.2 L585.0,705.3 L588.0,705.3 L591.0,705.4 L594.0,705.5 L597.0,705.6 L600.0,705.8 L603.0,706.0 L606.0,706.2 L609.0,706.4 L612.0,706.6 L615.0,706.9 L618.0,707.2 L621.0,707.5 L624.0,707.8 L627.0,708.2 L630.0,708.5 L633.0,708.9 L636.0,709.3 L639.0,709.8 L642.0,710.2 L645.0,710.7 L648.0,711.2 L651.0,711.7 L654.0,712.2 L657.0,712.8 L660.0,713.3 L663.0,713.9 L666.0,714.5 L669.0,715.1 L672.0,715.7 L675.0,716.4 L678.0,717.0 L681.0,717.7 L684.0,718.4 L687.0,719.1 L690.0,719.8 L693.0,720.5 L696.0,721.2 L699.0,721.9 L702.0,722.7 L705.0,723.5 L708.0,724.2 L711.0,725.0 L714.0,725.8 L717.0,726.6 L720.0,727.4 L723.0,728.2 L726.0,729.1 L729.0,729.9 L732.0,730.7 L735.0,731.6 L738.0,732.4 L741.0,733.3 L744.0,734.1 L747.0,735.0 L750.0,735.9 L753.0,736.8 L756.0,737.6 L759.0,738.5 L762.0,739.4 L765.0,740.3 L768.0,741.2 L771.0,742.1 L774.0,743.0 L777.0,743.9 L780.0,744.8 L783.0,745.6 L786.0,746.5 L789.0,747.4 L792.0,748.3 L795.0,749.2 L798.0,750.1 L801.0,751.0 L804.0,751.9 L807.0,752.8 L810.0,753.6 L813.0,754.5 L816.0,755.4 L819.0,756.2 L822.0,757.1 L825.0,758.0 L828.0,758.8 L831.0,759.6 L834.0,760.5 L837.0,761.3 L840.0,762.1 L843.0,763.0 L846.0,763.8 L849.0,764.6 L852.0,765.4 L855.0,766.2 L858.0,766.9 L861.0,767.7 L864.0,768.5 L867.0,769.2 L870.0,770.0 L873.0,770.7 L876.0,771.4 L879.0,772.1 L882.0,772.8 L885.0,773.5 L888.0,774.2 L891.0,774.9 L894.0,775.5 L897.0,776.2 L900.0,776.8 L903.0,777.4 L906.0,778.0 L909.0,778.6 L912.0,779.2 L915.0,779.8 L918.0,780.3 L921.0,780.9 L924.0,781.4 L927.0,781.9 L930.0,782.4 L933.0,782.9 L936.0,783.3 L939.0,783.8 L942.0,784.2 L945.0,784.7 L948.0,785.1 L951.0,785.5 L954.0,785.9 L957.0,786.2 L960.0,786.6 L963.0,786.9 L966.0,787.2 L969.0,787.5 L972.0,787.8 L975.0,788.1 L978.0,788.3 L981.0,788.6 L984.0,788.8 L987.0,789.0 L990.0,789.2 L993.0,789.3 L996.0,789.5 L999.0,789.6 L1002.0,789.8 L1005.0,789.9 L1008.0,790.0 L1011.0,790.0 L1014.0,790.1 L1017.0,790.1 L1020.0,790.1 L1023.0,790.1 L1026.0,790.1 L1029.0,790.1 L1032.0,790.1 L1035.0,790.0 L1038.0,789.9 L1041.0,789.8 L1044.0,789.7 L1047.0,789.6 L1050.0,789.4 L1053.0,789.3 L1056.0,789.1 L1059.0,788.9 L1062.0,788.7 L1065.0,788.4 L1068.0,788.2 L1071.0,787.9 L1074.0,787.7 L1077.0,787.4 L1080.0,787.0 L1083.0,786.7 L1086.0,786.4 L1089.0,786.0 L1092.0,785.6 L1095.0,785.3 L1098.0,784.8 L1101.0,784.4 L1104.0,784.0 L1107.0,783.5 L1110.0,783.1 L1113.0,782.6 L1116.0,782.1 L1119.0,781.6 L1122.0,781.1 L1125.0,780.5 L1128.0,780.0 L1131.0,779.4 L1134.0,778.8 L1137.0,778.2 L1140.0,777.6 L1143.0,777.0 L1146.0,776.4 L1149.0,775.7 L1152.0,775.1 L1155.0,774.4 L1158.0,773.7 L1161.0,773.0 L1164.0,772.3 L1167.0,771.6 L1170.0,770.8 L1173.0,770.1 L1176.0,769.3 L1179.0,768.6 L1182.0,767.8 L1185.0,767.0 L1188.0,766.2 L1191.0,765.4 L1194.0,764.6 L1197.0,763.7 L1200.0,762.9 L1203.0,762.0 L1206.0,761.2 L1209.0,760.3 L1212.0,759.4 L1215.0,758.5 L1218.0,757.6 L1221.0,756.7 L1224.0,755.8 L1227.0,754.9 L1230.0,754.0 L1233.0,753.0 L1236.0,752.1 L1239.0,751.1 L1242.0,750.2 L1245.0,749.2 L1248.0,748.2 L1251.0,747.3 L1254.0,746.3 L1257.0,745.3 L1260.0,744.3 L1263.0,743.3 L1266.0,742.3 L1269.0,741.3 L1272.0,740.2 L1275.0,739.2 L1278.0,738.2 L1281.0,737.1 L1284.0,736.1 L1287.0,735.1 L1290.0,734.0 L1293.0,733.0 L1296.0,731.9 L1299.0,730.9 L1302.0,729.8 L1305.0,728.7 L1308.0,727.7 L1311.0,726.6 L1314.0,725.5 L1317.0,724.4 L1320.0,723.3 L1323.0,722.3 L1326.0,721.2 L1329.0,720.1 L1332.0,719.0 L1335.0,717.9 L1338.0,716.8 L1341.0,715.7 L1344.0,714.6 L1347.0,713.5 L1350.0,712.4 L1353.0,711.3 L1356.0,710.2 L1359.0,709.1 L1362.0,708.0 L1365.0,706.9 L1368.0,705.8 L1371.0,704.6 L1374.0,703.5 L1377.0,702.4 L1380.0,701.3 L1383.0,700.2 L1386.0,699.0 L1389.0,697.9 L1392.0,696.8 L1395.0,695.7 L1398.0,694.5 L1401.0,693.4 L1404.0,692.3 L1407.0,691.1 L1410.0,690.0 L1413.0,688.9 L1416.0,687.7 L1419.0,686.6 L1422.0,685.4 L1425.0,684.3 L1428.0,683.1 L1431.0,681.9 L1434.0,680.8 L1437.0,679.6 L1440.0,678.5 L1443.0,677.3 L1446.0,676.1 L1449.0,674.9 L1452.0,673.7 L1455.0,672.5 L1458.0,671.3 L1461.0,670.1 L1464.0,668.9 L1467.0,667.7 L1470.0,666.5 L1473.0,665.2 L1476.0,664.0 L1479.0,662.7 L1482.0,661.5 L1485.0,660.2 L1488.0,658.9 L1491.0,657.6 L1494.0,656.3 L1497.0,655.0 L1500.0,653.7 L1503.0,652.4 L1506.0,651.0 L1509.0,649.7 L1512.0,648.3 L1515.0,646.9 L1518.0,645.5 L1521.0,644.1 L1524.0,642.6 L1527.0,641.2 L1530.0,639.7 L1533.0,638.2 L1536.0,636.7 L1539.0,635.2 L1542.0,633.6 L1545.0,632.0 L1548.0,630.4 L1551.0,628.8 L1554.0,627.1 L1557.0,625.5 L1560.0,623.7 L1563.0,622.0 L1566.0,620.2 L1568.0,619.1" fill="none" stroke="#00FF00" stroke-width="4.0" stroke-linejoin="round" stroke-linecap="round"/>
<path d="M60.0,753.8 L63.0,761.6 L66.0,769.1 L69.0,776.4 L72.0,783.3 L75.0,789.9 L78.0,796.3 L81.0,802.3 L84.0,808.2 L87.0,813.7 L90.0,819.0 L93.0,824.0 L96.0,828.8 L99.0,833.4 L102.0,837.7 L105.0,841.8 L108.0,845.7 L111.0,849.3 L114.0,852.8 L117.0,856.0 L120.0,859.0 L123.0,861.9 L126.0,864.5 L129.0,867.0 L132.0,869.3 L135.0,871.3 L138.0,873.3 L141.0,875.0 L144.0,876.6 L147.0,878.0 L150.0,879.3 L153.0,880.4 L156.0,881.4 L159.0,882.2 L162.0,882.9 L165.0,883.5 L168.0,883.9 L171.0,884.2 L174.0,884.4 L177.0,884.4 L180.0,884.4 L183.0,884.2 L186.0,883.9 L189.0,883.5 L192.0,883.0 L195.0,882.4 L198.0,881.8 L201.0,881.0 L204.0,880.1 L207.0,879.2 L210.0,878.2 L213.0,877.0 L216.0,875.9 L219.0,874.6 L222.0,873.3 L225.0,871.9 L228.0,870.4 L231.0,868.9 L234.0,867.3 L237.0,865.7 L240.0,864.0 L243.0,862.3 L246.0,860.5 L249.0,858.7 L252.0,856.8 L255.0,854.9 L258.0,852.9 L261.0,850.9 L264.0,848.9 L267.0,846.8 L270.0,844.7 L273.0,842.6 L276.0,840.4 L279.0,838.3 L282.0,836.1 L285.0,833.9 L288.0,831.6 L291.0,829.4 L294.0,827.1 L297.0,824.8 L300.0,822.6 L303.0,820.3 L306.0,818.0 L309.0,815.6 L312.0,813.3 L315.0,811.0 L318.0,808.7 L321.0,806.4 L324.0,804.0 L327.0,801.7 L330.0,799.4 L333.0,797.1 L336.0,794.8 L339.0,792.5 L342.0,790.2 L345.0,787.9 L348.0,785.6 L351.0,783.3 L354.0,781.1 L357.0,778.9 L360.0,776.6 L363.0,774.4 L366.0,772.2 L369.0,770.1 L372.0,767.9 L375.0,765.8 L378.0,763.7 L381.0,761.6 L384.0,759.5 L387.0,757.5 L390.0,755.4 L393.0,753.4 L396.0,751.4 L399.0,749.5 L402.0,747.6 L405.0,745.6 L408.0,743.8 L411.0,741.9 L414.0,740.1 L417.0,738.3 L420.0,736.5 L423.0,734.8 L426.0,733.1 L429.0,731.4 L432.0,729.8 L435.0,728.1 L438.0,726.5 L441.0,725.0 L444.0,723.5 L447.0,722.0 L450.0,720.5 L453.0,719.1 L456.0,717.7 L459.0,716.3 L462.0,715.0 L465.0,713.6 L468.0,712.4 L471.0,711.1 L474.0,709.9 L477.0,708.8 L480.0,707.6 L483.0,706.5 L486.0,705.4 L489.0,704.4 L492.0,703.4 L495.0,702.4 L498.0,701.5 L501.0,700.5 L504.0,699.7 L507.0,698.8 L510.0,698.0 L513.0,697.2 L516.0,696.5 L519.0,695.8 L522.0,695.1 L525.0,694.4 L528.0,693.8 L531.0,693.2 L534.0,692.6 L537.0,692.1 L540.0,691.6 L543.0,691.2 L546.0,690.7 L549.0,690.3 L552.0,689.9 L555.0,689.6 L558.0,689.3 L561.0,689.0 L564.0,688.7 L567.0,688.5 L570.0,688.3 L573.0,688.1 L576.0,688.0 L579.0,687.9 L582.0,687.8 L585.0,687.7 L588.0,687.7 L591.0,687.7 L594.0,687.7 L597.0,687.7 L600.0,687.8 L603.0,687.9 L606.0,688.0 L609.0,688.1 L612.0,688.3 L615.0,688.4 L618.0,688.7 L621.0,688.9 L624.0,689.1 L627.0,689.4 L630.0,689.7 L633.0,690.0 L636.0,690.3 L639.0,690.7 L642.0,691.1 L645.0,691.5 L648.0,691.9 L651.0,692.3 L654.0,692.8 L657.0,693.2 L660.0,693.7 L663.0,694.2 L666.0,694.7 L669.0,695.3 L672.0,695.8 L675.0,696.4 L678.0,696.9 L681.0,697.5 L684.0,698.1 L687.0,698.8 L690.0,699.4 L693.0,700.0 L696.0,700.7 L699.0,701.4 L702.0,702.0 L705.0,702.7 L708.0,703.4 L711.0,704.1 L714.0,704.9 L717.0,705.6 L720.0,706.3 L723.0,707.1 L726.0,707.8 L729.0,708.6 L732.0,709.4 L735.0,710.1 L738.0,710.9 L741.0,711.7 L744.0,712.5 L747.0,713.3 L750.0,714.1 L753.0,714.9 L756.0,715.7 L759.0,716.6 L762.0,717.4 L765.0,718.2 L768.0,719.0 L771.0,719.9 L774.0,720.7 L777.0,721.5 L780.0,722.4 L783.0,723.2 L786.0,724.1 L789.0,724.9 L792.0,725.7 L795.0,726.6 L798.0,727.4 L801.0,728.3 L804.0,729.1 L807.0,729.9 L810.0,730.8 L813.0,731.6 L816.0,732.4 L819.0,733.3 L822.0,734.1 L825.0,734.9 L828.0,735.7 L831.0,736.6 L834.0,737.4 L837.0,738.2 L840.0,739.0 L843.0,739.8 L846.0,740.6 L849.0,741.4 L852.0,742.2 L855.0,742.9 L858.0,743.7 L861.0,744.5 L864.0,745.2 L867.0,746.0 L870.0,746.8 L873.0,747.5 L876.0,748.2 L879.0,749.0 L882.0,749.7 L885.0,750.4 L888.0,751.1 L891.0,751.8 L894.0,752.5 L897.0,753.2 L900.0,753.9 L903.0,754.6 L906.0,755.2 L909.0,755.9 L912.0,756.5 L915.0,757.2 L918.0,757.8 L921.0,758.4 L924.0,759.1 L927.0,759.7 L930.0,760.3 L933.0,760.9 L936.0,761.4 L939.0,762.0 L942.0,762.6 L945.0,763.1 L948.0,763.7 L951.0,764.2 L954.0,764.7 L957.0,765.2 L960.0,765.8 L963.0,766.3 L966.0,766.7 L969.0,767.2 L972.0,767.7 L975.0,768.2 L978.0,768.6 L981.0,769.1 L984.0,769.5 L987.0,769.9 L990.0,770.3 L993.0,770.7 L996.0,771.1 L999.0,771.5 L1002.0,771.9 L1005.0,772.3 L1008.0,772.6 L1011.0,773.0 L1014.0,773.3 L1017.0,773.7 L1020.0,774.0 L1023.0,774.3 L1026.0,774.6 L1029.0,774.9 L1032.0,775.2 L1035.0,775.5 L1038.0,775.8 L1041.0,776.0 L1044.0,776.3 L1047.0,776.6 L1050.0,776.8 L1053.0,777.0 L1056.0,777.3 L1059.0,777.5 L1062.0,777.7 L1065.0,777.9 L1068.0,778.1 L1071.0,778.3 L1074.0,778.4 L1077.0,778.6 L1080.0,778.8 L1083.0,778.9 L1086.0,779.1 L1089.0,779.2 L1092.0,779.4 L1095.0,779.5 L1098.0,779.6 L1101.0,779.7 L1104.0,779.8 L1107.0,779.9 L1110.0,780.0 L1113.0,780.1 L1116.0,780.2 L1119.0,780.3 L1122.0,780.3 L1125.0,780.4 L1128.0,780.4 L1131.0,780.5 L1134.0,780.5 L1137.0,780.5 L1140.0,780.6 L1143.0,780.6 L1146.0,780.6 L1149.0,780.6 L1152.0,780.6 L1155.0,780.6 L1158.0,780.6 L1161.0,780.6 L1164.0,780.6 L1167.0,780.5 L1170.0,780.5 L1173.0,780.5 L1176.0,780.4 L1179.0,780.4 L1182.0,780.3 L1185.0,780.2 L1188.0,780.2 L1191.0,780.1 L1194.0,780.0 L1197.0,779.9 L1200.0,779.8 L1203.0,779.7 L1206.0,779.6 L1209.0,779.5 L1212.0,779.3 L1215.0,779.2 L1218.0,779.1 L1221.0,778.9 L1224.0,778.7 L1227.0,778.6 L1230.0,778.4 L1233.0,778.2 L1236.0,778.0 L1239.0,777.8 L1242.0,777.6 L1245.0,777.4 L1248.0,777.1 L1251.0,776.9 L1254.0,776.7 L1257.0,776.4 L1260.0,776.1 L1263.0,775.8 L1266.0,775.5 L1269.0,775.2 L1272.0,774.9 L1275.0,774.6 L1278.0,774.2 L1281.0,773.9 L1284.0,773.5 L1287.0,773.1 L1290.0,772.7 L1293.0,772.3 L1296.0,771.8 L1299.0,771.4 L1302.0,770.9 L1305.0,770.4 L1308.0,769.9 L1311.0,769.4 L1314.0,768.8 L1317.0,768.2 L1320.0,767.6 L1323.0,767.0 L1326.0,766.4 L1329.0,765.7 L1332.0,765.0 L1335.0,764.3 L1338.0,763.6 L1341.0,762.8 L1344.0,762.0 L1347.0,761.2 L1350.0,760.4 L1353.0,759.5 L1356.0,758.6 L1359.0,757.6 L1362.0,756.7 L1365.0,755.6 L1368.0,754.6 L1371.0,753.5 L1374.0,752.4 L1377.0,751.2 L1380.0,750.0 L1383.0,748.8 L1386.0,747.5 L1389.0,746.2 L1392.0,744.8 L1395.0,743.4 L1398.0,741.9 L1401.0,740.4 L1404.0,738.8 L1407.0,737.2 L1410.0,735.5 L1413.0,733.8 L1416.0,732.0 L1419.0,730.1 L1422.0,728.2 L1425.0,726.2 L1428.0,724.2 L1431.0,722.1 L1434.0,719.9 L1437.0,717.7 L1440.0,715.3 L1443.0,713.0 L1446.0,710.5 L1449.0,708.0 L1452.0,705.3 L1455.0,702.6 L1458.0,699.8 L1461.0,697.0 L1464.0,694.0 L1467.0,691.0 L1470.0,687.8 L1473.0,684.6 L1476.0,681.3 L1479.0,677.8 L1482.0,674.3 L1485.0,670.7 L1488.0,666.9 L1491.0,663.1 L1494.0,659.1 L1497.0,655.0 L1500.0,650.8 L1503.0,646.5 L1506.0,642.0 L1509.0,637.5 L1512.0,632.8 L1515.0,627.9 L1518.0,622.9 L1521.0,617.8 L1524.0,612.6 L1527.0,607.2 L1530.0,601.6 L1533.0,596.0 L1536.0,590.1 L1539.0,584.1 L1542.0,577.9 L1545.0,571.6 L1548.0,565.1 L1551.0,558.4 L1554.0,551.6 L1557.0,544.5 L1560.0,537.3 L1563.0,529.9 L1566.0,522.3 L1568.0,517.1" fill="none" stroke="#002060" stroke-width="4.0" stroke-linejoin="round" stroke-linecap="round"/>
<path d="M60.0,794.9 L63.0,800.7 L66.0,806.2 L69.0,811.5 L72.0,816.6 L75.0,821.4 L78.0,826.1 L81.0,830.5 L84.0,834.8 L87.0,838.8 L90.0,842.7 L93.0,846.4 L96.0,849.8 L99.0,853.1 L102.0,856.3 L105.0,859.2 L108.0,862.0 L111.0,864.6 L114.0,867.1 L117.0,869.4 L120.0,871.5 L123.0,873.5 L126.0,875.3 L129.0,877.0 L132.0,878.6 L135.0,880.0 L138.0,881.3 L141.0,882.4 L144.0,883.4 L147.0,884.3 L150.0,885.1 L153.0,885.8 L156.0,886.3 L159.0,886.7 L162.0,887.0 L165.0,887.3 L168.0,887.4 L171.0,887.4 L174.0,887.3 L177.0,887.1 L180.0,886.8 L183.0,886.4 L186.0,886.0 L189.0,885.4 L192.0,884.8 L195.0,884.1 L198.0,883.3 L201.0,882.4 L204.0,881.5 L207.0,880.5 L210.0,879.4 L213.0,878.3 L216.0,877.1 L219.0,875.9 L222.0,874.5 L225.0,873.2 L228.0,871.7 L231.0,870.3 L234.0,868.7 L237.0,867.2 L240.0,865.5 L243.0,863.9 L246.0,862.2 L249.0,860.4 L252.0,858.6 L255.0,856.8 L258.0,855.0 L261.0,853.1 L264.0,851.2 L267.0,849.2 L270.0,847.2 L273.0,845.2 L276.0,843.2 L279.0,841.2 L282.0,839.1 L285.0,837.0 L288.0,834.9 L291.0,832.8 L294.0,830.6 L297.0,828.5 L300.0,826.3 L303.0,824.2 L306.0,822.0 L309.0,819.8 L312.0,817.6 L315.0,815.4 L318.0,813.2 L321.0,811.0 L324.0,808.8 L327.0,806.6 L330.0,804.4 L333.0,802.1 L336.0,799.9 L339.0,797.7 L342.0,795.5 L345.0,793.4 L348.0,791.2 L351.0,789.0 L354.0,786.8 L357.0,784.7 L360.0,782.5 L363.0,780.4 L366.0,778.3 L369.0,776.2 L372.0,774.1 L375.0,772.0 L378.0,769.9 L381.0,767.9 L384.0,765.9 L387.0,763.8 L390.0,761.8 L393.0,759.9 L396.0,757.9 L399.0,756.0 L402.0,754.1 L405.0,752.2 L408.0,750.3 L411.0,748.5 L414.0,746.6 L417.0,744.8 L420.0,743.1 L423.0,741.3 L426.0,739.6 L429.0,737.9 L432.0,736.2 L435.0,734.6 L438.0,733.0 L441.0,731.4 L444.0,729.8 L447.0,728.3 L450.0,726.8 L453.0,725.3 L456.0,723.8 L459.0,722.4 L462.0,721.0 L465.0,719.7 L468.0,718.3 L471.0,717.0 L474.0,715.7 L477.0,714.5 L480.0,713.3 L483.0,712.1 L486.0,711.0 L489.0,709.8 L492.0,708.8 L495.0,707.7 L498.0,706.7 L501.0,705.7 L504.0,704.7 L507.0,703.8 L510.0,702.9 L513.0,702.0 L516.0,701.2 L519.0,700.4 L522.0,699.6 L525.0,698.9 L528.0,698.2 L531.0,697.5 L534.0,696.8 L537.0,696.2 L540.0,695.6 L543.0,695.1 L546.0,694.6 L549.0,694.1 L552.0,693.6 L555.0,693.2 L558.0,692.8 L561.0,692.4 L564.0,692.1 L567.0,691.8 L570.0,691.5 L573.0,691.2 L576.0,691.0 L579.0,690.8 L582.0,690.7 L585.0,690.5 L588.0,690.4 L591.0,690.3 L594.0,690.3 L597.0,690.3 L600.0,690.3 L603.0,690.3 L606.0,690.4 L609.0,690.5 L612.0,690.6 L615.0,690.7 L618.0,690.9 L621.0,691.1 L624.0,691.3 L627.0,691.6 L630.0,691.9 L633.0,692.2 L636.0,692.5 L639.0,692.8 L642.0,693.2 L645.0,693.6 L648.0,694.0 L651.0,694.4 L654.0,694.9 L657.0,695.4 L660.0,695.9 L663.0,696.4 L666.0,696.9 L669.0,697.5 L672.0,698.1 L675.0,698.7 L678.0,699.3 L681.0,700.0 L684.0,700.6 L687.0,701.3 L690.0,702.0 L693.0,702.7 L696.0,703.5 L699.0,704.2 L702.0,705.0 L705.0,705.7 L708.0,706.5 L711.0,707.4 L714.0,708.2 L717.0,709.0 L720.0,709.9 L723.0,710.7 L726.0,711.6 L729.0,712.5 L732.0,713.4 L735.0,714.3 L738.0,715.3 L741.0,716.2 L744.0,717.1 L747.0,718.1 L750.0,719.1 L753.0,720.0 L756.0,721.0 L759.0,722.0 L762.0,723.0 L765.0,724.0 L768.0,725.0 L771.0,726.1 L774.0,727.1 L777.0,728.1 L780.0,729.2 L783.0,730.2 L786.0,731.2 L789.0,732.3 L792.0,733.3 L795.0,734.4 L798.0,735.5 L801.0,736.5 L804.0,737.6 L807.0,738.7 L810.0,739.7 L813.0,740.8 L816.0,741.9 L819.0,742.9 L822.0,744.0 L825.0,745.1 L828.0,746.1 L831.0,747.2 L834.0,748.3 L837.0,749.3 L840.0,750.4 L843.0,751.4 L846.0,752.5 L849.0,753.5 L852.0,754.6 L855.0,755.6 L858.0,756.7 L861.0,757.7 L864.0,758.7 L867.0,759.7 L870.0,760.7 L873.0,761.7 L876.0,762.7 L879.0,763.7 L882.0,764.7 L885.0,765.7 L888.0,766.6 L891.0,767.6 L894.0,768.5 L897.0,769.5 L900.0,770.4 L903.0,771.3 L906.0,772.2 L909.0,773.1 L912.0,774.0 L915.0,774.8 L918.0,775.7 L921.0,776.6 L924.0,777.4 L927.0,778.2 L930.0,779.0 L933.0,779.8 L936.0,780.6 L939.0,781.4 L942.0,782.1 L945.0,782.9 L948.0,783.6 L951.0,784.3 L954.0,785.0 L957.0,785.7 L960.0,786.4 L963.0,787.0 L966.0,787.6 L969.0,788.3 L972.0,788.9 L975.0,789.5 L978.0,790.0 L981.0,790.6 L984.0,791.1 L987.0,791.6 L990.0,792.1 L993.0,792.6 L996.0,793.1 L999.0,793.5 L1002.0,794.0 L1005.0,794.4 L1008.0,794.8 L1011.0,795.2 L1014.0,795.5 L1017.0,795.9 L1020.0,796.2 L1023.0,796.5 L1026.0,796.8 L1029.0,797.0 L1032.0,797.3 L1035.0,797.5 L1038.0,797.7 L1041.0,797.9 L1044.0,798.0 L1047.0,798.2 L1050.0,798.3 L1053.0,798.4 L1056.0,798.5 L1059.0,798.6 L1062.0,798.6 L1065.0,798.7 L1068.0,798.7 L1071.0,798.7 L1074.0,798.6 L1077.0,798.6 L1080.0,798.5 L1083.0,798.4 L1086.0,798.3 L1089.0,798.2 L1092.0,798.0 L1095.0,797.8 L1098.0,797.6 L1101.0,797.4 L1104.0,797.2 L1107.0,796.9 L1110.0,796.7 L1113.0,796.4 L1116.0,796.1 L1119.0,795.7 L1122.0,795.4 L1125.0,795.0 L1128.0,794.6 L1131.0,794.2 L1134.0,793.8 L1137.0,793.3 L1140.0,792.9 L1143.0,792.4 L1146.0,791.9 L1149.0,791.4 L1152.0,790.8 L1155.0,790.3 L1158.0,789.7 L1161.0,789.1 L1164.0,788.5 L1167.0,787.8 L1170.0,787.2 L1173.0,786.5 L1176.0,785.8 L1179.0,785.1 L1182.0,784.4 L1185.0,783.7 L1188.0,782.9 L1191.0,782.2 L1194.0,781.4 L1197.0,780.6 L1200.0,779.8 L1203.0,779.0 L1206.0,778.1 L1209.0,777.2 L1212.0,776.4 L1215.0,775.5 L1218.0,774.6 L1221.0,773.7 L1224.0,772.7 L1227.0,771.8 L1230.0,770.8 L1233.0,769.9 L1236.0,768.9 L1239.0,767.9 L1242.0,766.9 L1245.0,765.8 L1248.0,764.8 L1251.0,763.8 L1254.0,762.7 L1257.0,761.7 L1260.0,760.6 L1263.0,759.5 L1266.0,758.4 L1269.0,757.3 L1272.0,756.2 L1275.0,755.1 L1278.0,753.9 L1281.0,752.8 L1284.0,751.6 L1287.0,750.5 L1290.0,749.3 L1293.0,748.2 L1296.0,747.0 L1299.0,745.8 L1302.0,744.6 L1305.0,743.4 L1308.0,742.2 L1311.0,741.0 L1314.0,739.8 L1317.0,738.6 L1320.0,737.4 L1323.0,736.2 L1326.0,735.0 L1329.0,733.8 L1332.0,732.5 L1335.0,731.3 L1338.0,730.1 L1341.0,728.9 L1344.0,727.6 L1347.0,726.4 L1350.0,725.2 L1353.0,724.0 L1356.0,722.7 L1359.0,721.5 L1362.0,720.3 L1365.0,719.1 L1368.0,717.9 L1371.0,716.7 L1374.0,715.5 L1377.0,714.3 L1380.0,713.1 L1383.0,711.9 L1386.0,710.7 L1389.0,709.5 L1392.0,708.3 L1395.0,707.2 L1398.0,706.0 L1401.0,704.8 L1404.0,703.7 L1407.0,702.6 L1410.0,701.4 L1413.0,700.3 L1416.0,699.2 L1419.0,698.1 L1422.0,697.0 L1425.0,695.9 L1428.0,694.9 L1431.0,693.8 L1434.0,692.8 L1437.0,691.8 L1440.0,690.7 L1443.0,689.7 L1446.0,688.7 L1449.0,687.8 L1452.0,686.8 L1455.0,685.9 L1458.0,684.9 L1461.0,684.0 L1464.0,683.1 L1467.0,682.2 L1470.0,681.4 L1473.0,680.5 L1476.0,679.7 L1479.0,678.9 L1482.0,678.1 L1485.0,677.3 L1488.0,676.6 L1491.0,675.8 L1494.0,675.1 L1497.0,674.4 L1500.0,673.7 L1503.0,673.1 L1506.0,672.5 L1509.0,671.8 L1512.0,671.3 L1515.0,670.7 L1518.0,670.2 L1521.0,669.6 L1524.0,669.1 L1527.0,668.7 L1530.0,668.2 L1533.0,667.8 L1536.0,667.4 L1539.0,667.0 L1542.0,666.7 L1545.0,666.4 L1548.0,666.1 L1551.0,665.8 L1554.0,665.6 L1557.0,665.4 L1560.0,665.2 L1563.0,665.0 L1566.0,664.9 L1568.0,664.8" fill="none" stroke="#00B0F0" stroke-width="4.0" stroke-linejoin="round" stroke-linecap="round"/>
<line x1="60.4" y1="87" x2="60.4" y2="944" stroke="#000" stroke-width="1.4"/>
<line x1="53" y1="943.5" x2="1568.5" y2="943.5" stroke="#000" stroke-width="1.3"/>
<line x1="53" y1="943.5" x2="60" y2="943.5" stroke="#000" stroke-width="1.2"/>
<text x="40" y="951.1" font-size="24" text-anchor="end" fill="#000">0</text>
<line x1="53" y1="800.5" x2="60" y2="800.5" stroke="#000" stroke-width="1.2"/>
<text x="40" y="808.1" font-size="24" text-anchor="end" fill="#000">5</text>
<line x1="53" y1="657.5" x2="60" y2="657.5" stroke="#000" stroke-width="1.2"/>
<text x="40" y="665.1" font-size="24" text-anchor="end" fill="#000">10</text>
<line x1="53" y1="515.5" x2="60" y2="515.5" stroke="#000" stroke-width="1.2"/>
<text x="40" y="523.1" font-size="24" text-anchor="end" fill="#000">15</text>
<line x1="53" y1="372.5" x2="60" y2="372.5" stroke="#000" stroke-width="1.2"/>
<text x="40" y="380.1" font-size="24" text-anchor="end" fill="#000">20</text>
<line x1="53" y1="230.5" x2="60" y2="230.5" stroke="#000" stroke-width="1.2"/>
<text x="40" y="238.1" font-size="24" text-anchor="end" fill="#000">25</text>
<line x1="53" y1="87.5" x2="60" y2="87.5" stroke="#000" stroke-width="1.2"/>
<text x="40" y="95.1" font-size="24" text-anchor="end" fill="#000">30</text>
<line x1="60.4" y1="943" x2="60.4" y2="950.5" stroke="#000" stroke-width="1.3"/>
<text x="60.4" y="979.7" font-size="24" text-anchor="middle" fill="#000">6:00:00</text>
<line x1="227.9" y1="943" x2="227.9" y2="950.5" stroke="#000" stroke-width="1.3"/>
<text x="227.9" y="979.7" font-size="24" text-anchor="middle" fill="#000">8:00:00</text>
<line x1="395.4" y1="943" x2="395.4" y2="950.5" stroke="#000" stroke-width="1.3"/>
<text x="395.4" y="979.7" font-size="24" text-anchor="middle" fill="#000">10:00:00</text>
<line x1="562.9" y1="943" x2="562.9" y2="950.5" stroke="#000" stroke-width="1.3"/>
<text x="562.9" y="979.7" font-size="24" text-anchor="middle" fill="#000">12:00:00</text>
<line x1="730.4" y1="943" x2="730.4" y2="950.5" stroke="#000" stroke-width="1.3"/>
<text x="730.4" y="979.7" font-size="24" text-anchor="middle" fill="#000">14:00:00</text>
<line x1="898.0" y1="943" x2="898.0" y2="950.5" stroke="#000" stroke-width="1.3"/>
<text x="898.0" y="979.7" font-size="24" text-anchor="middle" fill="#000">16:00:00</text>
<line x1="1065.5" y1="943" x2="1065.5" y2="950.5" stroke="#000" stroke-width="1.3"/>
<text x="1065.5" y="979.7" font-size="24" text-anchor="middle" fill="#000">18:00:00</text>
<line x1="1233.0" y1="943" x2="1233.0" y2="950.5" stroke="#000" stroke-width="1.3"/>
<text x="1233.0" y="979.7" font-size="24" text-anchor="middle" fill="#000">20:00:00</text>
<line x1="1400.5" y1="943" x2="1400.5" y2="950.5" stroke="#000" stroke-width="1.3"/>
<text x="1400.5" y="979.7" font-size="24" text-anchor="middle" fill="#000">22:00:00</text>
<line x1="1568.0" y1="943" x2="1568.0" y2="950.5" stroke="#000" stroke-width="1.3"/>
<text x="1568.0" y="979.7" font-size="24" text-anchor="middle" fill="#000">0:00:00</text>
<rect x="148.5" y="1007.5" width="1296" height="83" fill="#fff" stroke="#000" stroke-width="1.2"/>
<circle cx="190.0" cy="1028.0" r="3.28" fill="#7030A0"/>
<text x="219.7" y="1034.9" font-size="22.5" fill="#000">Fri.1</text>
<line x1="167.5" y1="1069.8" x2="215.0" y2="1069.8" stroke="#7030A0" stroke-width="3.8" stroke-linecap="round"/>
<text x="219.7" y="1076.7" font-size="22.5" fill="#000">Poly. (Fri.1)</text>
<path d="M405.9,1022.7L411.2,1028.0L405.9,1033.3L400.6,1028.0Z" fill="#FF0000"/>
<text x="435.6" y="1034.9" font-size="22.5" fill="#000">Mon.4</text>
<line x1="383.4" y1="1069.8" x2="430.9" y2="1069.8" stroke="#FF0000" stroke-width="3.8" stroke-linecap="round"/>
<text x="435.6" y="1076.7" font-size="22.5" fill="#000">Poly. (Mon.4)</text>
<rect x="618.3" y="1024.5" width="7.0" height="7.0" fill="#FFFF00"/>
<text x="651.5" y="1034.9" font-size="22.5" fill="#000">Tue.5</text>
<line x1="599.3" y1="1069.8" x2="646.8" y2="1069.8" stroke="#FFFF00" stroke-width="3.8" stroke-linecap="round"/>
<text x="651.5" y="1076.7" font-size="22.5" fill="#000">Poly. (Tue.5)</text>
<path d="M837.7,1024.1L841.4,1031.1L834.0,1031.1Z" fill="#00FF00"/>
<text x="867.4" y="1034.9" font-size="22.5" fill="#000">Wed.6</text>
<line x1="815.2" y1="1069.8" x2="862.7" y2="1069.8" stroke="#00FF00" stroke-width="3.8" stroke-linecap="round"/>
<text x="867.4" y="1076.7" font-size="22.5" fill="#000">Poly. (Wed.6)</text>
<circle cx="1053.6" cy="1028.0" r="3.28" fill="#002060"/>
<text x="1083.3" y="1034.9" font-size="22.5" fill="#000">Thu.7</text>
<line x1="1031.1" y1="1069.8" x2="1078.6" y2="1069.8" stroke="#002060" stroke-width="3.8" stroke-linecap="round"/>
<text x="1083.3" y="1076.7" font-size="22.5" fill="#000">Poly. (Thu.7)</text>
<circle cx="1269.5" cy="1028.0" r="3.28" fill="#00B0F0"/>
<text x="1299.2" y="1034.9" font-size="22.5" fill="#000">Fri.8</text>
<line x1="1247.0" y1="1069.8" x2="1294.5" y2="1069.8" stroke="#00B0F0" stroke-width="3.8" stroke-linecap="round"/>
<text x="1299.2" y="1076.7" font-size="22.5" fill="#000">Poly. (Fri.8)</text>
</svg></body></html>
